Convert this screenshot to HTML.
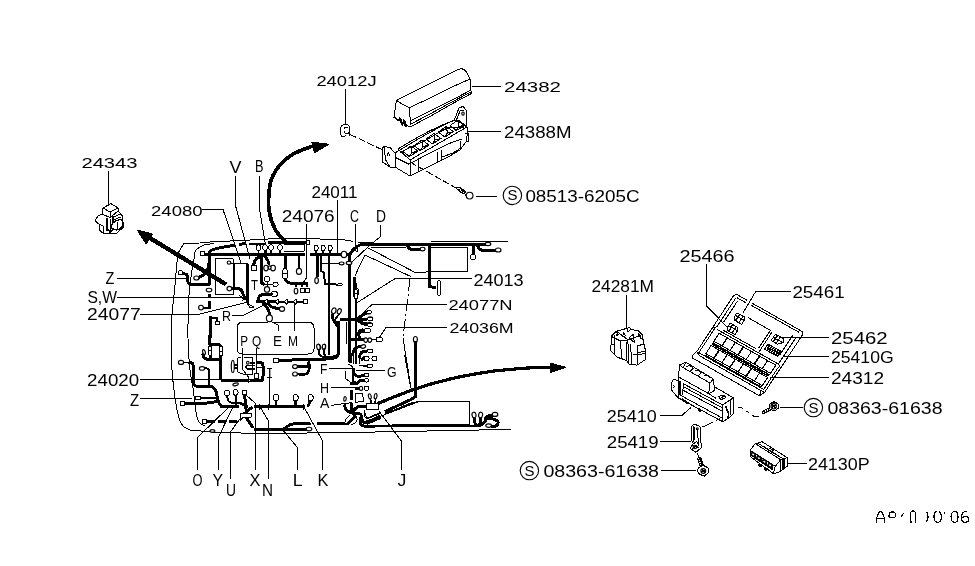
<!DOCTYPE html>
<html><head><meta charset="utf-8"><title>Wiring harness diagram</title>
<style>
html,body{margin:0;padding:0;background:#fff;}
svg{display:block;will-change:transform;filter:grayscale(1);}
text{font-family:"Liberation Sans",sans-serif;fill:#000;}
</style></head><body>
<svg width="975" height="566" viewBox="0 0 975 566" shape-rendering="crispEdges">
<rect width="975" height="566" fill="#fff"/>
<text x="316.4" y="86" font-size="15" textLength="60.2" lengthAdjust="spacingAndGlyphs">24012J</text>
<text x="504" y="92" font-size="15" textLength="57" lengthAdjust="spacingAndGlyphs">24382</text>
<text x="504" y="138.1" font-size="16.2" textLength="67.6" lengthAdjust="spacingAndGlyphs">24388M</text>
<text x="525.4" y="202" font-size="16.2" textLength="114.2" lengthAdjust="spacingAndGlyphs">08513-6205C</text>
<text x="81.4" y="168.1" font-size="15" textLength="56.2" lengthAdjust="spacingAndGlyphs">24343</text>
<text x="151" y="215.5" font-size="15" textLength="51.6" lengthAdjust="spacingAndGlyphs">24080</text>
<text x="229.6" y="172.9" font-size="16.2" textLength="12" lengthAdjust="spacingAndGlyphs">V</text>
<text x="255" y="172.3" font-size="16.2" textLength="8.5" lengthAdjust="spacingAndGlyphs">B</text>
<text x="311.4" y="197.5" font-size="16" textLength="46.2" lengthAdjust="spacingAndGlyphs">24011</text>
<text x="281.8" y="221.5" font-size="16" textLength="52.8" lengthAdjust="spacingAndGlyphs">24076</text>
<text x="350" y="221.5" font-size="16.2" textLength="9" lengthAdjust="spacingAndGlyphs">C</text>
<text x="376" y="221.5" font-size="16.2" textLength="10" lengthAdjust="spacingAndGlyphs">D</text>
<text x="473.4" y="285.5" font-size="16.2" textLength="50.2" lengthAdjust="spacingAndGlyphs">24013</text>
<text x="448.4" y="309.5" font-size="15" textLength="64.2" lengthAdjust="spacingAndGlyphs">24077N</text>
<text x="449.4" y="332.5" font-size="15" textLength="64.2" lengthAdjust="spacingAndGlyphs">24036M</text>
<text x="105.4" y="284.3" font-size="16.5" textLength="8.8" lengthAdjust="spacingAndGlyphs">Z</text>
<text x="87.4" y="302.5" font-size="16.5" textLength="29.5" lengthAdjust="spacingAndGlyphs">S,W</text>
<text x="87" y="320.1" font-size="16.2" textLength="53.6" lengthAdjust="spacingAndGlyphs">24077</text>
<text x="222" y="320.9" font-size="14.2" textLength="9" lengthAdjust="spacingAndGlyphs">R</text>
<text x="251" y="289.5" font-size="14.2" textLength="7" lengthAdjust="spacingAndGlyphs">T</text>
<text x="240.2" y="346.3" font-size="15.2" textLength="7.8" lengthAdjust="spacingAndGlyphs">P</text>
<text x="252" y="346.3" font-size="15.2" textLength="9.2" lengthAdjust="spacingAndGlyphs">Q</text>
<text x="273" y="346.3" font-size="15.2" textLength="9" lengthAdjust="spacingAndGlyphs">E</text>
<text x="288" y="346.3" font-size="15.2" textLength="10" lengthAdjust="spacingAndGlyphs">M</text>
<text x="87.1" y="385.5" font-size="16.2" textLength="52" lengthAdjust="spacingAndGlyphs">24020</text>
<text x="130.1" y="405.9" font-size="16.2" textLength="9.2" lengthAdjust="spacingAndGlyphs">Z</text>
<text x="267.7" y="377.8" font-size="14">I</text>
<text x="320" y="374.1" font-size="15.2" textLength="7.4" lengthAdjust="spacingAndGlyphs">F</text>
<text x="320" y="392.5" font-size="15.2" textLength="9" lengthAdjust="spacingAndGlyphs">H</text>
<text x="320" y="408.3" font-size="15.2" textLength="9.4" lengthAdjust="spacingAndGlyphs">A</text>
<text x="387" y="376.9" font-size="15.2" textLength="9.6" lengthAdjust="spacingAndGlyphs">G</text>
<text x="192.6" y="485.5" font-size="16.8" textLength="10" lengthAdjust="spacingAndGlyphs">O</text>
<text x="212.5" y="485.5" font-size="16.8" textLength="10.5" lengthAdjust="spacingAndGlyphs">Y</text>
<text x="226" y="495.5" font-size="16.8" textLength="10" lengthAdjust="spacingAndGlyphs">U</text>
<text x="249.6" y="485.5" font-size="16.8" textLength="10.9" lengthAdjust="spacingAndGlyphs">X</text>
<text x="262" y="495.5" font-size="16.8" textLength="11" lengthAdjust="spacingAndGlyphs">N</text>
<text x="292.7" y="485.5" font-size="16.8" textLength="9.9" lengthAdjust="spacingAndGlyphs">L</text>
<text x="317.4" y="485.5" font-size="16.8" textLength="10.9" lengthAdjust="spacingAndGlyphs">K</text>
<text x="397.6" y="485.5" font-size="16.8" textLength="8.9" lengthAdjust="spacingAndGlyphs">J</text>
<text x="591.4" y="291.5" font-size="16.2" textLength="62.6" lengthAdjust="spacingAndGlyphs">24281M</text>
<text x="679.4" y="261.5" font-size="16.2" textLength="55.2" lengthAdjust="spacingAndGlyphs">25466</text>
<text x="792.4" y="297.5" font-size="16.2" textLength="52.2" lengthAdjust="spacingAndGlyphs">25461</text>
<text x="831" y="343.5" font-size="17" textLength="56.6" lengthAdjust="spacingAndGlyphs">25462</text>
<text x="831" y="362.9" font-size="16.5" textLength="62.6" lengthAdjust="spacingAndGlyphs">25410G</text>
<text x="831" y="383.5" font-size="16.5" textLength="53" lengthAdjust="spacingAndGlyphs">24312</text>
<text x="827.4" y="413.5" font-size="16.2" textLength="115.2" lengthAdjust="spacingAndGlyphs">08363-61638</text>
<text x="606.8" y="421.5" font-size="16" textLength="49.8" lengthAdjust="spacingAndGlyphs">25410</text>
<text x="606.8" y="447.5" font-size="16.5" textLength="51.8" lengthAdjust="spacingAndGlyphs">25419</text>
<text x="543.4" y="476.5" font-size="16.2" textLength="115.6" lengthAdjust="spacingAndGlyphs">08363-61638</text>
<text x="808" y="469.9" font-size="16" textLength="61.6" lengthAdjust="spacingAndGlyphs">24130P</text>
<path d="M345.6 89 L345.6 124" fill="none" stroke="#000" stroke-width="1" stroke-linejoin="round"/>
<path d="M472 86 L500.6 86" fill="none" stroke="#000" stroke-width="1" stroke-linejoin="round"/>
<path d="M468 131 L501.4 131" fill="none" stroke="#000" stroke-width="1" stroke-linejoin="round"/>
<path d="M476 196 L497 196" fill="none" stroke="#000" stroke-width="1" stroke-linejoin="round"/>
<path d="M108.6 171 L108.6 204" fill="none" stroke="#000" stroke-width="1" stroke-linejoin="round"/>
<path d="M202.4 209.4 L223 209.4 L241 263" fill="none" stroke="#000" stroke-width="1" stroke-linejoin="round"/>
<path d="M235.6 176 L235.6 206 L250 259" fill="none" stroke="#000" stroke-width="1" stroke-linejoin="round"/>
<path d="M259.4 176 L259.4 208 L267 254" fill="none" stroke="#000" stroke-width="1" stroke-linejoin="round"/>
<path d="M337.6 200 L337.6 253" fill="none" stroke="#000" stroke-width="1" stroke-linejoin="round"/>
<path d="M306.6 223.6 L307 277 L303 283" fill="none" stroke="#000" stroke-width="1" stroke-linejoin="round"/>
<path d="M355.4 223.6 L355.4 248" fill="none" stroke="#000" stroke-width="1" stroke-linejoin="round"/>
<path d="M380.6 225 L380.6 236.5 L368.8 246.2 L352 262" fill="none" stroke="#000" stroke-width="1" stroke-linejoin="round"/>
<path d="M472 278.6 L395 278.6 L355 304" fill="none" stroke="#000" stroke-width="1" stroke-linejoin="round"/>
<path d="M447 304.4 L372 304.4 L363 313" fill="none" stroke="#000" stroke-width="1" stroke-linejoin="round"/>
<path d="M447 327.4 L386 327.4 L379 338" fill="none" stroke="#000" stroke-width="1" stroke-linejoin="round"/>
<path d="M116.6 278.4 L188 278.4" fill="none" stroke="#000" stroke-width="1" stroke-linejoin="round"/>
<path d="M116.6 297.4 L241 297.4" fill="none" stroke="#000" stroke-width="1" stroke-linejoin="round"/>
<path d="M140 314.4 L198 314.4 L246 302.4" fill="none" stroke="#000" stroke-width="1" stroke-linejoin="round"/>
<path d="M232 315.4 L243 315.4 L262 306" fill="none" stroke="#000" stroke-width="1" stroke-linejoin="round"/>
<path d="M140.2 379.5 L248 379.5" fill="none" stroke="#000" stroke-width="1" stroke-linejoin="round"/>
<path d="M140.2 398.4 L192 398.4" fill="none" stroke="#000" stroke-width="1" stroke-linejoin="round"/>
<path d="M229 407 L197 438 L197 470" fill="none" stroke="#000" stroke-width="1" stroke-linejoin="round"/>
<path d="M233 407 L218 438 L218 470" fill="none" stroke="#000" stroke-width="1" stroke-linejoin="round"/>
<path d="M242 416 L230.4 432 L230.4 479" fill="none" stroke="#000" stroke-width="1" stroke-linejoin="round"/>
<path d="M246 395 L255 403 L255 470" fill="none" stroke="#000" stroke-width="1" stroke-linejoin="round"/>
<path d="M260 407 L268 420 L268 479" fill="none" stroke="#000" stroke-width="1" stroke-linejoin="round"/>
<path d="M282 429 L297 447 L297 470" fill="none" stroke="#000" stroke-width="1" stroke-linejoin="round"/>
<path d="M304 407 L322 440 L322 470" fill="none" stroke="#000" stroke-width="1" stroke-linejoin="round"/>
<path d="M379 411 L401.4 441 L401.4 470" fill="none" stroke="#000" stroke-width="1" stroke-linejoin="round"/>
<path d="M269 378 L269 407" fill="none" stroke="#000" stroke-width="1" stroke-linejoin="round"/>
<path d="M329 368.4 L355 368.4" fill="none" stroke="#000" stroke-width="1" stroke-linejoin="round"/>
<path d="M331 387.6 L355 387.6" fill="none" stroke="#000" stroke-width="1" stroke-linejoin="round"/>
<path d="M331 405.4 L352 402.6" fill="none" stroke="#000" stroke-width="1" stroke-linejoin="round"/>
<path d="M385 370.4 L356 370.4" fill="none" stroke="#000" stroke-width="1" stroke-linejoin="round"/>
<path d="M626.6 295 L626.6 328" fill="none" stroke="#000" stroke-width="1" stroke-linejoin="round"/>
<path d="M706.6 264 L706.6 306 L730 330" fill="none" stroke="#000" stroke-width="1" stroke-linejoin="round"/>
<path d="M791 291 L756 291 L743 313" fill="none" stroke="#000" stroke-width="1" stroke-linejoin="round"/>
<path d="M829 337.4 L783 337.4" fill="none" stroke="#000" stroke-width="1" stroke-linejoin="round"/>
<path d="M829 356.4 L783 356.4" fill="none" stroke="#000" stroke-width="1" stroke-linejoin="round"/>
<path d="M829 377.4 L770 377.4" fill="none" stroke="#000" stroke-width="1" stroke-linejoin="round"/>
<path d="M780 407.4 L803 407.4" fill="none" stroke="#000" stroke-width="1" stroke-linejoin="round"/>
<path d="M660 415.4 L682 415.4 L691 407.4" fill="none" stroke="#000" stroke-width="1" stroke-linejoin="round"/>
<path d="M660 441.4 L691 441.4" fill="none" stroke="#000" stroke-width="1" stroke-linejoin="round"/>
<path d="M661 470.6 L696 470.6" fill="none" stroke="#000" stroke-width="1" stroke-linejoin="round"/>
<path d="M788 463.4 L807 463.4" fill="none" stroke="#000" stroke-width="1" stroke-linejoin="round"/>
<circle cx="512.4" cy="195.4" r="9.2" fill="none" stroke="#000" stroke-width="1.1" shape-rendering="geometricPrecision"/>
<text x="507.4" y="200.4" font-size="14" textLength="10" lengthAdjust="spacingAndGlyphs">S</text>
<circle cx="813.4" cy="407.6" r="9.2" fill="none" stroke="#000" stroke-width="1.1" shape-rendering="geometricPrecision"/>
<text x="808.4" y="412.6" font-size="14" textLength="10" lengthAdjust="spacingAndGlyphs">S</text>
<circle cx="529.4" cy="470.6" r="9.2" fill="none" stroke="#000" stroke-width="1.1" shape-rendering="geometricPrecision"/>
<text x="524.4" y="475.6" font-size="14" textLength="10" lengthAdjust="spacingAndGlyphs">S</text>
<path d="M226 284.4 L150 238" fill="none" stroke="#000" stroke-width="4.4" stroke-linejoin="round"/>
<path d="M137.2 230.1 L152.8 234.1 L146.3 243.9 Z" fill="#000" stroke="#000" stroke-width="1" stroke-linejoin="round"/>
<path d="M286 242.4 C284.2 240.2 277.8 234.4 275 229 C272.2 223.6 269.9 217.0 269 210 C268.1 203.0 268.9 192.8 269.6 187 C270.3 181.2 271.4 178.7 273.3 174.9 C275.2 171.1 277.5 167.6 280.8 164.1 C284.1 160.6 288.4 156.9 293.2 154.1 C298.0 151.3 306.2 148.4 309.8 147.1 C313.4 145.8 314.1 146.2 315 146" fill="none" stroke="#000" stroke-width="3.7" stroke-linecap="round"/>
<path d="M328.9 144.2 L311.9 142.1 L314.4 152.9 Z" fill="#000" stroke="#000" stroke-width="1" stroke-linejoin="round"/>
<path d="M379 403 C385.0 400.7 403.2 393.0 415 389 C426.8 385.0 437.5 381.9 450 379 C462.5 376.1 478.3 373.3 490 371.6 C501.7 369.9 512.3 369.3 520 368.6 C527.7 367.9 530.7 367.8 536 367.6 C541.3 367.4 549.3 367.5 552 367.5" fill="none" stroke="#000" stroke-width="3.2" stroke-linecap="round"/>
<path d="M566 367.4 L550 363 L550 372.7 Z" fill="#000" stroke="#000" stroke-width="1" stroke-linejoin="round"/>
<path d="M177 262 L177.5 254 L184 243.2 L200 243 L210 242" fill="none" stroke="#000" stroke-width="1" stroke-linejoin="round"/>
<path d="M210 242 C216.7 241.7 237.3 240.6 250 240 C262.7 239.4 272.7 238.5 286 238.4 C299.3 238.3 319.9 239.0 330 239.3 C340.1 239.6 342.8 239.8 346.6 240.2 C350.4 240.6 351.6 241.4 352.6 241.6" fill="none" stroke="#000" stroke-width="1" stroke-linecap="round"/>
<path d="M177 262 C176.7 265.8 175.8 276.2 175 285 C174.2 293.8 172.7 306.2 172 315 C171.3 323.8 171.0 328.8 171 338 C171.0 347.2 171.3 360.0 172 370 C172.7 380.0 173.8 390.0 175 398 C176.2 406.0 177.7 413.3 179 418 C180.3 422.7 181.2 424.0 183 426 C184.8 428.0 188.8 429.3 190 430" fill="none" stroke="#000" stroke-width="1" stroke-linecap="round"/>
<path d="M190 430 L214 432.2 L260 433.6 L355 432.4 L511 429.4" fill="none" stroke="#000" stroke-width="1" stroke-linejoin="round"/>
<path d="M214 243.6 C212.3 243.8 206.7 244.2 204 245 C201.3 245.8 199.5 247.1 198 248.3 C196.5 249.5 195.7 249.9 195 252 C194.3 254.1 194.3 257.6 193.8 260.6 C193.3 263.6 192.8 264.3 192 270 C191.2 275.7 189.7 283.7 189 295 C188.3 306.3 187.8 325.5 188 338 C188.2 350.5 189.2 361.7 190 370 C190.8 378.3 192.0 381.0 193 388 C194.0 395.0 195.0 406.3 196 412 C197.0 417.7 197.5 419.7 199 422 C200.5 424.3 204.0 425.3 205 426" fill="none" stroke="#000" stroke-width="1" stroke-linecap="round"/>
<path d="M431 241.4 L508 241.4" fill="none" stroke="#000" stroke-width="1" stroke-linejoin="round"/>
<path d="M205 254.4 L305 254.4" fill="none" stroke="#000" stroke-width="3" stroke-linejoin="round"/>
<path d="M310 254.4 L341 254.4" fill="none" stroke="#000" stroke-width="3" stroke-linejoin="round"/>
<rect x="200.4" y="251.6" width="4.4" height="3.6" rx="0" fill="#fff" stroke="#000" stroke-width="1"/>
<path d="M209 253 C209.5 252.5 209.8 250.9 212 250 C214.2 249.1 218.3 248.2 222 247.4 C225.7 246.6 232.0 245.7 234 245.4" fill="none" stroke="#000" stroke-width="3" stroke-linecap="round"/>
<path d="M239 244.4 L246 243.4" fill="none" stroke="#000" stroke-width="3" stroke-linejoin="round"/>
<path d="M249 243.8 L265 243.8" fill="none" stroke="#000" stroke-width="1.6" stroke-linejoin="round"/>
<path d="M268 242.6 L308 242.6" fill="none" stroke="#000" stroke-width="3" stroke-linejoin="round"/>
<rect x="306.6" y="240.8" width="2.8" height="3.2" rx="0" fill="#fff" stroke="#000" stroke-width="1"/>
<path d="M284 244 L304 244 L304 251 L284 251" fill="none" stroke="#000" stroke-width="1" stroke-linejoin="round"/>
<path d="M258.6 250 L258.6 254" fill="none" stroke="#000" stroke-width="1.6" stroke-linejoin="round"/>
<rect x="256.4" y="244.9" width="4.4" height="5.4" rx="1.8" fill="#fff" stroke="#000" stroke-width="1"/>
<path d="M265 250 L265 254" fill="none" stroke="#000" stroke-width="1.6" stroke-linejoin="round"/>
<rect x="262.8" y="244.9" width="4.4" height="5.4" rx="1.8" fill="#fff" stroke="#000" stroke-width="1"/>
<path d="M271 250 L271 254" fill="none" stroke="#000" stroke-width="1.6" stroke-linejoin="round"/>
<rect x="268.8" y="244.9" width="4.4" height="5.4" rx="1.8" fill="#fff" stroke="#000" stroke-width="1"/>
<path d="M280 250 L280 254" fill="none" stroke="#000" stroke-width="1.6" stroke-linejoin="round"/>
<rect x="277.8" y="244.9" width="4.4" height="5.4" rx="1.8" fill="#fff" stroke="#000" stroke-width="1"/>
<path d="M316 250 L316 254" fill="none" stroke="#000" stroke-width="2" stroke-linejoin="round"/>
<rect x="314" y="245" width="4" height="5.6" rx="1.8" fill="#fff" stroke="#000" stroke-width="1"/>
<path d="M323 250 L323 254" fill="none" stroke="#000" stroke-width="2" stroke-linejoin="round"/>
<rect x="321" y="245" width="4" height="5.6" rx="1.8" fill="#fff" stroke="#000" stroke-width="1"/>
<path d="M330 250 L330 254" fill="none" stroke="#000" stroke-width="2" stroke-linejoin="round"/>
<rect x="328" y="245" width="4" height="5.6" rx="1.8" fill="#fff" stroke="#000" stroke-width="1"/>
<path d="M349.3 262 C349.4 261.0 349.2 257.8 349.6 256 C350.1 254.2 350.8 252.6 352 251 C353.2 249.4 355.3 247.7 357 246.6 C358.7 245.5 360.0 244.8 362 244.4 C364.0 244.0 367.8 244.1 369 244" fill="none" stroke="#000" stroke-width="3" stroke-linecap="round"/>
<path d="M346 254.4 L350.5 254.4" fill="none" stroke="#000" stroke-width="3" stroke-linejoin="round"/>
<ellipse cx="344" cy="254.4" rx="2.8" ry="3.2" fill="#fff" stroke="#000" stroke-width="1.15" shape-rendering="geometricPrecision"/>
<path d="M355.2 248 L357.6 248.6 L357.4 251.6 L355 250.6 Z" fill="#fff" stroke="#000" stroke-width="1" stroke-linejoin="round"/>
<path d="M357.7 242 L371.5 242" fill="none" stroke="#000" stroke-width="1" stroke-linejoin="round"/>
<path d="M370.6 247.2 L405.7 247.2" fill="none" stroke="#000" stroke-width="1" stroke-linejoin="round"/>
<path d="M215 258.6 L233 258.6 L233 294.6 L215 294.6 Z" fill="none" stroke="#000" stroke-width="1" stroke-linejoin="round"/>
<path d="M230 263 L248 264" fill="none" stroke="#000" stroke-width="1" stroke-linejoin="round"/>
<ellipse cx="229" cy="262.6" rx="1.8" ry="1.6" fill="#fff" stroke="#000" stroke-width="1.15" shape-rendering="geometricPrecision"/>
<path d="M234 264 L234 287" fill="none" stroke="#000" stroke-width="1" stroke-linejoin="round"/>
<path d="M247.4 264 L247.4 303" fill="none" stroke="#000" stroke-width="3" stroke-linejoin="round"/>
<path d="M247.4 303.4 L254 307 L250 308 L247.4 303.4" fill="none" stroke="#000" stroke-width="1" stroke-linejoin="round"/>
<path d="M232 288.6 C233.3 288.7 238.2 288.1 240 289 C241.8 289.9 242.2 292.4 243 294 C243.8 295.6 244.7 297.8 245 298.6" fill="none" stroke="#000" stroke-width="3" stroke-linecap="round"/>
<ellipse cx="229.4" cy="288.6" rx="2.4" ry="2.2" fill="#fff" stroke="#000" stroke-width="1.15" shape-rendering="geometricPrecision"/>
<path d="M239.6 295.4 L244 299.4 L242 300.6" fill="none" stroke="#000" stroke-width="1" stroke-linejoin="round"/>
<path d="M209 255 L209 285" fill="none" stroke="#000" stroke-width="3" stroke-linejoin="round"/>
<ellipse cx="209" cy="290" rx="2.8" ry="1.8" fill="#fff" stroke="#000" stroke-width="1.15" shape-rendering="geometricPrecision"/>
<path d="M209.4 294 L209.4 298" fill="none" stroke="#000" stroke-width="3" stroke-linejoin="round"/>
<path d="M209.4 301 L209.4 309" fill="none" stroke="#000" stroke-width="3" stroke-linejoin="round"/>
<path d="M203 307.6 L209.4 307.6" fill="none" stroke="#000" stroke-width="2" stroke-linejoin="round"/>
<ellipse cx="201" cy="307.6" rx="2.4" ry="2.4" fill="#fff" stroke="#000" stroke-width="1.15" shape-rendering="geometricPrecision"/>
<path d="M210 316 L210 338" fill="none" stroke="#000" stroke-width="3" stroke-linejoin="round"/>
<path d="M210 317.4 L217 318 L217 322" fill="none" stroke="#000" stroke-width="2" stroke-linejoin="round"/>
<rect x="215" y="321.8" width="4" height="2.4" rx="0" fill="#fff" stroke="#000" stroke-width="1"/>
<path d="M183.6 273.6 C184.2 273.8 186.3 273.6 187 275 C187.7 276.4 187.2 280.4 188 282 C188.8 283.6 188.5 284.0 192 284.4 C195.5 284.8 206.2 284.4 209 284.4" fill="none" stroke="#000" stroke-width="3" stroke-linecap="round"/>
<path d="M199 277.4 C200.0 276.8 203.5 275.6 205 274 C206.5 272.4 207.3 269.8 208 268 C208.7 266.2 208.8 263.8 209 263" fill="none" stroke="#000" stroke-width="3" stroke-linecap="round"/>
<rect x="178.6" y="270.8" width="4" height="3.6" rx="0.8" fill="#fff" stroke="#000" stroke-width="1"/>
<ellipse cx="196.4" cy="278" rx="2.6" ry="2" fill="#fff" stroke="#000" stroke-width="1.15" shape-rendering="geometricPrecision"/>
<path d="M264 255 C262.7 255.7 257.7 257.3 256 259 C254.3 260.7 254.0 264.0 253.6 265" fill="none" stroke="#000" stroke-width="3" stroke-linecap="round"/>
<rect x="251.5" y="265.2" width="5" height="5.6" rx="1.4" fill="#fff" stroke="#000" stroke-width="1"/>
<path d="M263 255 C263.7 255.7 266.0 257.5 267 259 C268.0 260.5 268.7 263.2 269 264" fill="none" stroke="#000" stroke-width="3" stroke-linecap="round"/>
<ellipse cx="266" cy="268" rx="2.2" ry="2.8" fill="#fff" stroke="#000" stroke-width="1.15" shape-rendering="geometricPrecision"/>
<ellipse cx="273" cy="268" rx="2.4" ry="2.8" fill="#fff" stroke="#000" stroke-width="1.15" shape-rendering="geometricPrecision"/>
<ellipse cx="269.6" cy="267.6" rx="1.4" ry="1.8" fill="#fff" stroke="#000" stroke-width="1.15" shape-rendering="geometricPrecision"/>
<path d="M261 255 L261 282.6 L264.4 284.6" fill="none" stroke="#000" stroke-width="3" stroke-linejoin="round"/>
<rect x="264.8" y="276.8" width="4.4" height="4.4" rx="1.2" fill="#fff" stroke="#000" stroke-width="1"/>
<path d="M267.4 281.4 L267.4 287.4" fill="none" stroke="#000" stroke-width="1" stroke-linejoin="round"/>
<path d="M264 284.4 L272 284.4" fill="none" stroke="#000" stroke-width="1" stroke-linejoin="round"/>
<rect x="272.8" y="282.4" width="5.2" height="4" rx="1.8" fill="#fff" stroke="#000" stroke-width="1"/>
<ellipse cx="267" cy="289.4" rx="2.6" ry="2.8" fill="#fff" stroke="#000" stroke-width="1.15" shape-rendering="geometricPrecision"/>
<rect x="271.6" y="291.6" width="5.6" height="4.8" rx="2" fill="#fff" stroke="#000" stroke-width="1"/>
<path d="M285 255 L285 268" fill="none" stroke="#000" stroke-width="3" stroke-linejoin="round"/>
<rect x="282.8" y="268.4" width="4.4" height="10.4" rx="1.8" fill="#fff" stroke="#000" stroke-width="1"/>
<path d="M282.8 273.6 L287.2 273.6" fill="none" stroke="#000" stroke-width="1" stroke-linejoin="round"/>
<path d="M299 255 L299 268" fill="none" stroke="#000" stroke-width="2" stroke-linejoin="round"/>
<ellipse cx="299" cy="271.4" rx="2.6" ry="3" fill="#fff" stroke="#000" stroke-width="1.15" shape-rendering="geometricPrecision"/>
<path d="M285 279 C285.5 279.6 286.2 281.9 288 282.6 C289.8 283.3 292.8 283.2 296 283.4 C299.2 283.6 305.2 283.6 307 283.6" fill="none" stroke="#000" stroke-width="3" stroke-linecap="round"/>
<path d="M307 283.6 L307.6 287.4" fill="none" stroke="#000" stroke-width="2" stroke-linejoin="round"/>
<path d="M302.4 283.6 L302.4 287.4" fill="none" stroke="#000" stroke-width="2" stroke-linejoin="round"/>
<path d="M296.6 283.6 L296.2 287.4" fill="none" stroke="#000" stroke-width="2" stroke-linejoin="round"/>
<ellipse cx="296" cy="291" rx="1.8" ry="2.8" fill="#fff" stroke="#000" stroke-width="1.15" shape-rendering="geometricPrecision"/>
<rect x="300.4" y="288.4" width="4" height="4.4" rx="0" fill="#fff" stroke="#000" stroke-width="1"/>
<rect x="305.4" y="288.4" width="4" height="4.4" rx="0" fill="#fff" stroke="#000" stroke-width="1"/>
<path d="M256 302 L277 301.8" fill="none" stroke="#000" stroke-width="3" stroke-linejoin="round"/>
<path d="M277 301.8 L304 301.6" fill="none" stroke="#000" stroke-width="2" stroke-linejoin="round"/>
<rect x="303.4" y="299.8" width="4" height="3.6" rx="0" fill="#fff" stroke="#000" stroke-width="1"/>
<path d="M264.2 301.8 L267 299.2 L267 304.4 Z" fill="#fff" stroke="#000" stroke-width="1" stroke-linejoin="round"/>
<path d="M275.2 301.8 L278 299.2 L278 304.4 Z" fill="#fff" stroke="#000" stroke-width="1" stroke-linejoin="round"/>
<path d="M284.2 301.8 L287 299.2 L287 304.4 Z" fill="#fff" stroke="#000" stroke-width="1" stroke-linejoin="round"/>
<path d="M293.2 301.8 L296 299.2 L296 304.4 Z" fill="#fff" stroke="#000" stroke-width="1" stroke-linejoin="round"/>
<path d="M257.6 301.8 C257.9 300.8 258.5 297.2 259.6 296 C260.7 294.8 261.9 294.7 264 294.4 C266.1 294.1 270.7 294.1 272 294" fill="none" stroke="#000" stroke-width="3" stroke-linecap="round"/>
<path d="M268 303.4 C268.7 304.0 270.0 306.1 272 307 C274.0 307.9 278.7 308.7 280 309" fill="none" stroke="#000" stroke-width="3" stroke-linecap="round"/>
<ellipse cx="282" cy="309" rx="2.6" ry="2.4" fill="#fff" stroke="#000" stroke-width="1.15" shape-rendering="geometricPrecision"/>
<path d="M263 304 C263.8 304.8 266.9 307.2 268 309 C269.1 310.8 269.3 314.0 269.6 315" fill="none" stroke="#000" stroke-width="3" stroke-linecap="round"/>
<ellipse cx="269.4" cy="318.2" rx="3" ry="3.4" fill="#fff" stroke="#000" stroke-width="1.15" shape-rendering="geometricPrecision"/>
<path d="M271 321.4 L278 325 L278 331" fill="none" stroke="#000" stroke-width="1" stroke-linejoin="round"/>
<path d="M294.4 303.4 L294.4 331" fill="none" stroke="#000" stroke-width="1" stroke-linejoin="round"/>
<path d="M268 322 H243 Q237 322 237 328 V349 Q237 354 243 354 H308 Q314 354 314 349 V328 Q314 322 308 322 H272" fill="none" stroke="#000" stroke-width="1"/>
<path d="M317 255 L317 277.4" fill="none" stroke="#000" stroke-width="3" stroke-linejoin="round"/>
<ellipse cx="316.6" cy="280.6" rx="1.8" ry="3" fill="#fff" stroke="#000" stroke-width="1.15" shape-rendering="geometricPrecision"/>
<path d="M320.6 255 L320.6 270.6 L324 273 L325 284 L337.6 284.6" fill="none" stroke="#000" stroke-width="2" stroke-linejoin="round"/>
<rect x="337.8" y="283.4" width="4.4" height="2.4" rx="1" fill="#fff" stroke="#000" stroke-width="1"/>
<path d="M328.6 255 L328.6 338" fill="none" stroke="#000" stroke-width="1.8" stroke-linejoin="round"/>
<path d="M321 263 L339.6 263.4" fill="none" stroke="#000" stroke-width="1" stroke-linejoin="round"/>
<ellipse cx="341.6" cy="263.4" rx="2.4" ry="1.4" fill="#fff" stroke="#000" stroke-width="1.15" shape-rendering="geometricPrecision"/>
<ellipse cx="349" cy="263" rx="2.8" ry="1.6" fill="#fff" stroke="#000" stroke-width="1.15" shape-rendering="geometricPrecision"/>
<path d="M349.6 265 L349.6 338" fill="none" stroke="#000" stroke-width="3" stroke-linejoin="round"/>
<path d="M354 277 L354 297" fill="none" stroke="#000" stroke-width="3" stroke-linejoin="round"/>
<path d="M369 244 L489.4 244" fill="none" stroke="#000" stroke-width="3" stroke-linejoin="round"/>
<ellipse cx="488" cy="244" rx="2.8" ry="1.6" fill="#fff" stroke="#000" stroke-width="1.15" shape-rendering="geometricPrecision"/>
<path d="M407 245 C407.4 245.6 408.4 247.9 409.4 248.6 C410.4 249.3 411.1 249.3 413 249.4 C414.9 249.5 419.7 249.4 421 249.4" fill="none" stroke="#000" stroke-width="3" stroke-linecap="round"/>
<ellipse cx="422.6" cy="249" rx="2.4" ry="1.8" fill="#fff" stroke="#000" stroke-width="1.15" shape-rendering="geometricPrecision"/>
<path d="M429.4 244 L429.4 286.6 L436 287.8" fill="none" stroke="#000" stroke-width="3" stroke-linejoin="round"/>
<rect x="437.4" y="280.6" width="3.2" height="14.8" rx="1.6" fill="#fff" stroke="#000" stroke-width="1"/>
<path d="M473 245 L473 254" fill="none" stroke="#000" stroke-width="3" stroke-linejoin="round"/>
<rect x="470.8" y="254" width="4.4" height="5.2" rx="1.2" fill="#fff" stroke="#000" stroke-width="1"/>
<path d="M477.4 245 C477.8 245.7 478.7 248.5 480 249.4 C481.3 250.3 482.5 250.4 485 250.6 C487.5 250.8 493.3 250.6 495 250.6" fill="none" stroke="#000" stroke-width="3" stroke-linecap="round"/>
<ellipse cx="498.2" cy="250" rx="2.8" ry="2" fill="#fff" stroke="#000" stroke-width="1.15" shape-rendering="geometricPrecision"/>
<path d="M431 247.4 L467.6 247.4 L467.6 271.4 L443 271.4 L415 272.4 L367.4 247.6" fill="none" stroke="#000" stroke-width="1" stroke-linejoin="round"/>
<path d="M365 255 L411 276.6" fill="none" stroke="#000" stroke-width="1" stroke-linejoin="round"/>
<path d="M365 255 L360 265 L355 276" fill="none" stroke="#000" stroke-width="1" stroke-linejoin="round"/>
<path d="M410 279 L403 338" fill="none" stroke="#000" stroke-width="1" stroke-dasharray="12 3 2 3" stroke-linejoin="round"/>
<path d="M356.2 283 L356.2 338" fill="none" stroke="#000" stroke-width="2" stroke-linejoin="round"/>
<rect x="354.4" y="288" width="3.6" height="8" rx="0.8" fill="#fff" stroke="#000" stroke-width="1"/>
<path d="M357 319 C357.8 318.4 360.4 316.4 362 315.4 C363.6 314.4 365.8 313.4 366.6 313" fill="none" stroke="#000" stroke-width="3" stroke-linecap="round"/>
<path d="M357 319 L367 319" fill="none" stroke="#000" stroke-width="3" stroke-linejoin="round"/>
<path d="M358.6 320.6 C359.2 321.1 360.7 322.8 362 323.4 C363.3 324.0 365.8 323.9 366.6 324" fill="none" stroke="#000" stroke-width="3" stroke-linecap="round"/>
<path d="M358 334 C358.4 333.4 359.4 330.8 360.6 330.2 C361.8 329.6 364.3 330.2 365 330.2" fill="none" stroke="#000" stroke-width="3" stroke-linecap="round"/>
<ellipse cx="368.6" cy="312.4" rx="2.2" ry="1.6" fill="#fff" stroke="#000" stroke-width="1.15" shape-rendering="geometricPrecision"/>
<ellipse cx="370.2" cy="318.6" rx="2.4" ry="1.8" fill="#fff" stroke="#000" stroke-width="1.15" shape-rendering="geometricPrecision"/>
<ellipse cx="369.4" cy="324" rx="2.2" ry="1.6" fill="#fff" stroke="#000" stroke-width="1.15" shape-rendering="geometricPrecision"/>
<ellipse cx="367" cy="330.6" rx="2.6" ry="1.8" fill="#fff" stroke="#000" stroke-width="1.15" shape-rendering="geometricPrecision"/>
<path d="M209.8 335 L209.8 344.2" fill="none" stroke="#000" stroke-width="3" stroke-linejoin="round"/>
<path d="M209.8 344.2 C211.0 344.2 215.5 344.0 217.2 344.2 C218.9 344.4 219.3 345.0 219.9 345.6 C220.5 346.2 220.5 347.5 220.6 347.9" fill="none" stroke="#000" stroke-width="3" stroke-linecap="round"/>
<path d="M220.6 347.9 L220.6 380.2" fill="none" stroke="#000" stroke-width="3" stroke-linejoin="round"/>
<path d="M210.2 344.2 L210.2 359.5" fill="none" stroke="#000" stroke-width="3" stroke-linejoin="round"/>
<path d="M207 359.5 L220.6 359.5" fill="none" stroke="#000" stroke-width="3" stroke-linejoin="round"/>
<path d="M202.8 354.4 C203.0 354.9 203.5 356.8 204.2 357.6 C204.9 358.5 206.5 359.2 207 359.5" fill="none" stroke="#000" stroke-width="3" stroke-linecap="round"/>
<ellipse cx="204" cy="352.1" rx="1.29235" ry="2.58469" fill="#fff" stroke="#000" stroke-width="1.15" shape-rendering="geometricPrecision" transform="rotate(-15 204 352.1)"/>
<rect x="208.6" y="346.1" width="3.32318" height="9.23105" rx="1.29235" fill="#fff" stroke="#000" stroke-width="1"/>
<path d="M208.7 350.7 L211.8 350.7" fill="none" stroke="#000" stroke-width="1" stroke-linejoin="round"/>
<rect x="219.1" y="346.5" width="3.69242" height="9.23105" rx="1.47697" fill="#fff" stroke="#000" stroke-width="1"/>
<path d="M219.2 351.2 L222.7 351.2" fill="none" stroke="#000" stroke-width="1" stroke-linejoin="round"/>
<path d="M220.6 380.2 L261 380.2" fill="none" stroke="#000" stroke-width="3" stroke-linejoin="round"/>
<path d="M261 380.2 C261.3 379.9 262.5 381.0 262.8 378.4 C263.1 375.8 263.3 367.1 262.8 364.5 C262.3 361.9 260.4 362.8 259.6 362.5 C258.8 362.2 258.1 362.5 257.8 362.5" fill="none" stroke="#000" stroke-width="3" stroke-linecap="round"/>
<ellipse cx="235.6" cy="384.4" rx="2.76932" ry="1.29235" fill="#fff" stroke="#000" stroke-width="1.15" shape-rendering="geometricPrecision" transform="rotate(-15 235.6 384.4)"/>
<ellipse cx="232.8" cy="366.4" rx="1.47697" ry="6.0925" fill="#fff" stroke="#000" stroke-width="1.15" shape-rendering="geometricPrecision"/>
<path d="M234.2 364.5 L237.6 364.5" fill="none" stroke="#000" stroke-width="2" stroke-linejoin="round"/>
<path d="M234.2 367.8 L237.6 367.8" fill="none" stroke="#000" stroke-width="2" stroke-linejoin="round"/>
<path d="M240.4 357.2 C239.9 357.5 238.1 357.4 237.6 358.8 C237.1 360.2 237.5 363.3 237.5 365.5 C237.5 367.7 236.5 370.4 237.6 371.9 C238.7 373.3 242.8 373.8 243.9 374.2" fill="none" stroke="#000" stroke-width="1" stroke-linecap="round"/>
<path d="M243.9 357.2 L252.2 357.2 L252.2 374.2 L243.9 374.2" fill="none" stroke="#000" stroke-width="1" stroke-linejoin="round"/>
<ellipse cx="247.8" cy="362.7" rx="1.29235" ry="1.47697" fill="#fff" stroke="#000" stroke-width="1.15" shape-rendering="geometricPrecision"/>
<path d="M249.5 362.7 L255 362.7" fill="none" stroke="#000" stroke-width="1.8" stroke-linejoin="round"/>
<path d="M246.7 365.9 L255 365.9" fill="none" stroke="#000" stroke-width="1" stroke-linejoin="round"/>
<path d="M248.1 369.2 L255 369.2" fill="none" stroke="#000" stroke-width="1.8" stroke-linejoin="round"/>
<path d="M246.7 365.9 C246.5 366.1 245.6 366.8 245.8 367.3 C246.0 367.9 247.7 368.9 248.1 369.2" fill="none" stroke="#000" stroke-width="1.2" stroke-linecap="round"/>
<path d="M256.8 367.3 L261.6 367.3" fill="none" stroke="#000" stroke-width="1" stroke-linejoin="round"/>
<rect x="254.5" y="373" width="3.69242" height="5.53863" rx="0" fill="#fff" stroke="#000" stroke-width="1"/>
<path d="M242.5 347.9 L242.5 369.2 L249.5 378.4" fill="none" stroke="#000" stroke-width="1" stroke-linejoin="round"/>
<path d="M256.4 347.9 L256.4 372.8" fill="none" stroke="#000" stroke-width="1" stroke-linejoin="round"/>
<path d="M248.5 378.4 L250.8 380.2 L248.5 382.1 Z" fill="#fff" stroke="#000" stroke-width="1" stroke-linejoin="round"/>
<path d="M183.6 362.4 L190 363" fill="none" stroke="#000" stroke-width="1.4" stroke-linejoin="round"/>
<path d="M190 363 C190.5 363.3 192.5 361.7 193 365 C193.5 368.3 193.0 380.0 193 383" fill="none" stroke="#000" stroke-width="3" stroke-linecap="round"/>
<path d="M193 383 C193.7 383.6 194.0 385.8 197 386.4 C200.0 387.0 207.8 385.5 211 386.4 C214.2 387.3 214.8 389.0 216 391.6 C217.2 394.2 217.3 399.5 218.4 402 C219.5 404.5 221.7 405.8 222.4 406.6" fill="none" stroke="#000" stroke-width="3" stroke-linecap="round"/>
<ellipse cx="181" cy="362.4" rx="2.6" ry="2" fill="#fff" stroke="#000" stroke-width="1.15" shape-rendering="geometricPrecision"/>
<path d="M204.4 368.4 C205.2 368.7 208.2 367.2 209 370 C209.8 372.8 209.0 382.5 209 385" fill="none" stroke="#000" stroke-width="2" stroke-linecap="round"/>
<ellipse cx="202" cy="368.4" rx="2.6" ry="1.8" fill="#fff" stroke="#000" stroke-width="1.15" shape-rendering="geometricPrecision"/>
<rect x="195.6" y="396.2" width="4.8" height="3.6" rx="0" fill="#fff" stroke="#000" stroke-width="1"/>
<path d="M200.4 398.2 L217 398.2" fill="none" stroke="#000" stroke-width="2.4" stroke-linejoin="round"/>
<path d="M185 403.4 C187.5 403.4 195.3 403.6 200 403.4 C204.7 403.2 210.0 403.0 213 402.4 C216.0 401.8 217.2 400.4 218 400" fill="none" stroke="#000" stroke-width="3" stroke-linecap="round"/>
<rect x="180.6" y="401.6" width="4" height="3.6" rx="0" fill="#fff" stroke="#000" stroke-width="1"/>
<path d="M220 406.6 L239 406.6" fill="none" stroke="#000" stroke-width="3" stroke-linejoin="round"/>
<path d="M254 406.6 L305 406.6" fill="none" stroke="#000" stroke-width="3" stroke-linejoin="round"/>
<path d="M227 396 C227.3 396.9 227.8 400.4 229 401.6 C230.2 402.8 232.2 402.8 234 403 C235.8 403.2 239.0 403.0 240 403" fill="none" stroke="#000" stroke-width="2" stroke-linecap="round"/>
<path d="M235.6 395.6 L235.6 406.6" fill="none" stroke="#000" stroke-width="2" stroke-linejoin="round"/>
<rect x="224.6" y="390.2" width="4.8" height="5.6" rx="2" fill="#fff" stroke="#000" stroke-width="1"/>
<rect x="233.2" y="389.6" width="4.8" height="5.6" rx="2.2" fill="#fff" stroke="#000" stroke-width="1"/>
<rect x="242.4" y="390" width="4.4" height="4.8" rx="0" fill="#fff" stroke="#000" stroke-width="1"/>
<path d="M244.6 395 L246.4 412.4" fill="none" stroke="#000" stroke-width="3" stroke-linejoin="round"/>
<path d="M252.4 407 L242 415.6" fill="none" stroke="#000" stroke-width="3" stroke-linejoin="round"/>
<path d="M244 414 L253 428" fill="none" stroke="#000" stroke-width="3" stroke-linejoin="round"/>
<path d="M240 413 L251 413 L251 417 L243.6 417 L240 420.4 Z" fill="#fff" stroke="#000" stroke-width="1" stroke-linejoin="round"/>
<path d="M240 403 L248 406.6" fill="none" stroke="#000" stroke-width="2.8" stroke-linejoin="round"/>
<path d="M276 400.4 L276 406.6" fill="none" stroke="#000" stroke-width="2.8" stroke-linejoin="round"/>
<rect x="273.5" y="394.6" width="5" height="6" rx="2.2" fill="#fff" stroke="#000" stroke-width="1"/>
<path d="M295.6 400.4 L295.6 406.6" fill="none" stroke="#000" stroke-width="2.8" stroke-linejoin="round"/>
<rect x="293.1" y="394.6" width="5" height="6" rx="2.2" fill="#fff" stroke="#000" stroke-width="1"/>
<path d="M310.6 400.4 L307.6 406.6" fill="none" stroke="#000" stroke-width="2.8" stroke-linejoin="round"/>
<rect x="308.1" y="394.6" width="5" height="6" rx="2.2" fill="#fff" stroke="#000" stroke-width="1"/>
<path d="M260 404.6 L258.6 407 L260 409.4" fill="none" stroke="#000" stroke-width="1" stroke-linejoin="round"/>
<path d="M269 404.6 L267.6 407 L269 409.4" fill="none" stroke="#000" stroke-width="1" stroke-linejoin="round"/>
<path d="M304 404.6 L302.6 407 L304 409.4" fill="none" stroke="#000" stroke-width="1" stroke-linejoin="round"/>
<rect x="202.2" y="419.8" width="4.4" height="3.6" rx="0" fill="#fff" stroke="#000" stroke-width="1"/>
<path d="M207 421.6 L240 421.6" fill="none" stroke="#000" stroke-width="3" stroke-dasharray="7.5 3.5" stroke-linejoin="round"/>
<path d="M254 429 L307 429" fill="none" stroke="#000" stroke-width="3" stroke-linejoin="round"/>
<path d="M284 429 C284.7 428.5 286.5 426.8 288 426 C289.5 425.2 289.3 424.3 293 424 C296.7 423.7 307.2 424.0 310 424" fill="none" stroke="#000" stroke-width="3" stroke-linecap="round"/>
<ellipse cx="309" cy="429" rx="2.8" ry="1.8" fill="#fff" stroke="#000" stroke-width="1.15" shape-rendering="geometricPrecision"/>
<path d="M318 424 C321.7 424.0 335.0 424.1 340 424 C345.0 423.9 346.0 424.4 348 423.6 C350.0 422.8 350.8 420.1 352 419 C353.2 417.9 354.5 417.3 355 417" fill="none" stroke="#000" stroke-width="2.8" stroke-linecap="round"/>
<ellipse cx="212.4" cy="431" rx="2.4" ry="1.4" fill="#fff" stroke="#000" stroke-width="1.15" shape-rendering="geometricPrecision"/>
<path d="M279 360.4 L326 359" fill="none" stroke="#000" stroke-width="3" stroke-linejoin="round"/>
<rect x="273.8" y="358.6" width="4.4" height="3.6" rx="0" fill="#fff" stroke="#000" stroke-width="1"/>
<path d="M326 359 C327.3 358.8 332.0 358.7 334 358 C336.0 357.3 337.3 358.3 338 355 C338.7 351.7 338.0 340.8 338 338" fill="none" stroke="#000" stroke-width="3" stroke-linecap="round"/>
<path d="M328.6 338 L328.6 355" fill="none" stroke="#000" stroke-width="1.8" stroke-linejoin="round"/>
<path d="M319 349 C319.2 350.0 318.8 353.4 320 355 C321.2 356.6 325.0 358.0 326 358.6" fill="none" stroke="#000" stroke-width="2" stroke-linecap="round"/>
<path d="M324 349 C324.1 350.0 323.9 353.5 324.4 355 C324.9 356.5 326.6 357.5 327 358" fill="none" stroke="#000" stroke-width="2" stroke-linecap="round"/>
<ellipse cx="319" cy="347" rx="1.6" ry="2.6" fill="#fff" stroke="#000" stroke-width="1.15" shape-rendering="geometricPrecision" transform="rotate(-10 319 347)"/>
<ellipse cx="324" cy="347" rx="1.6" ry="2.6" fill="#fff" stroke="#000" stroke-width="1.15" shape-rendering="geometricPrecision" transform="rotate(10 324 347)"/>
<path d="M297 366.6 C298.7 366.6 305.0 367.2 307 366.4 C309.0 365.6 308.7 363.1 309 362 C309.3 360.9 309.0 360.0 309 359.6" fill="none" stroke="#000" stroke-width="2.8" stroke-linecap="round"/>
<path d="M297 374 C298.5 374.0 304.0 374.7 306 374 C308.0 373.3 308.5 372.0 309 370 C309.5 368.0 309.0 363.3 309 362" fill="none" stroke="#000" stroke-width="2.8" stroke-linecap="round"/>
<ellipse cx="295" cy="366.6" rx="2.4" ry="2" fill="#fff" stroke="#000" stroke-width="1.15" shape-rendering="geometricPrecision"/>
<ellipse cx="295" cy="374" rx="2.4" ry="2" fill="#fff" stroke="#000" stroke-width="1.15" shape-rendering="geometricPrecision"/>
<path d="M332.9 314.1 C332.9 314.9 332.4 317.5 332.9 319.1 C333.4 320.8 335.1 322.7 336 324 C336.9 325.3 337.8 326.6 338.2 327.1" fill="none" stroke="#000" stroke-width="2.8" stroke-linecap="round"/>
<path d="M338.7 314.7 C338.1 315.4 335.8 317.7 335.4 319.1 C335.0 320.6 336.1 322.3 336.6 323.4 C337.1 324.5 338.2 325.5 338.5 325.9" fill="none" stroke="#000" stroke-width="2" stroke-linecap="round"/>
<ellipse cx="333.8" cy="310.8" rx="2.10318" ry="2.96919" fill="#fff" stroke="#000" stroke-width="1.15" shape-rendering="geometricPrecision" transform="rotate(20 333.8 310.8)"/>
<ellipse cx="339.3" cy="311.3" rx="1.85575" ry="2.72176" fill="#fff" stroke="#000" stroke-width="1.15" shape-rendering="geometricPrecision" transform="rotate(25 339.3 311.3)"/>
<path d="M338.5 320.9 L338.5 352.5" fill="none" stroke="#000" stroke-width="3" stroke-linejoin="round"/>
<path d="M338.5 352.5 C338.2 353.0 337.9 354.8 336.6 355.6 C335.4 356.4 332.8 357.0 331 357.4 C329.2 357.8 326.9 357.9 326.1 358" fill="none" stroke="#000" stroke-width="2.8" stroke-linecap="round"/>
<path d="M339.7 319.3 L359.5 319.3" fill="none" stroke="#000" stroke-width="3" stroke-linejoin="round"/>
<path d="M318.4 349.4 C318.5 350.2 318.6 353.1 319.3 354.3 C320.0 355.5 321.3 356.2 322.4 356.8 C323.5 357.4 325.5 357.8 326.1 358" fill="none" stroke="#000" stroke-width="2" stroke-linecap="round"/>
<path d="M323.9 349.4 C323.9 350.1 323.8 352.3 324.2 353.7 C324.6 355.1 325.8 357.1 326.1 357.8" fill="none" stroke="#000" stroke-width="2" stroke-linecap="round"/>
<ellipse cx="318.4" cy="346.9" rx="1.73203" ry="2.72176" fill="#fff" stroke="#000" stroke-width="1.15" shape-rendering="geometricPrecision" transform="rotate(-10 318.4 346.9)"/>
<ellipse cx="323.9" cy="346.7" rx="1.60831" ry="2.47433" fill="#fff" stroke="#000" stroke-width="1.15" shape-rendering="geometricPrecision" transform="rotate(5 323.9 346.7)"/>
<path d="M346.5 322.2 L346.5 344.4" fill="none" stroke="#000" stroke-width="1" stroke-linejoin="round"/>
<rect x="354.3" y="289.9" width="3.46406" height="3.71149" rx="1.23716" fill="#fff" stroke="#000" stroke-width="1"/>
<rect x="354.3" y="293.7" width="3.46406" height="4.94866" rx="1.23716" fill="#fff" stroke="#000" stroke-width="1"/>
<path d="M359.5 319.3 C359.9 318.6 361.0 316.5 362 315.4 C363.0 314.3 365.1 313.3 365.7 312.9" fill="none" stroke="#000" stroke-width="3" stroke-linecap="round"/>
<path d="M359.5 319.3 L366.9 319.3" fill="none" stroke="#000" stroke-width="3" stroke-linejoin="round"/>
<path d="M359.5 319.7 C360.0 320.3 361.4 322.4 362.6 323.2 C363.8 324.0 366.2 324.4 366.9 324.6" fill="none" stroke="#000" stroke-width="3" stroke-linecap="round"/>
<rect x="366.9" y="310.5" width="4.45379" height="3.46406" rx="1.4846" fill="#fff" stroke="#000" stroke-width="1"/>
<rect x="367.8" y="317.2" width="4.94866" height="3.71149" rx="1.4846" fill="#fff" stroke="#000" stroke-width="1"/>
<rect x="367.5" y="323" width="4.94866" height="3.21663" rx="1.4846" fill="#fff" stroke="#000" stroke-width="1"/>
<path d="M359.5 339.5 C359.4 338.5 358.4 334.7 359.2 333.3 C360.0 331.9 363.5 331.5 364.4 331.1" fill="none" stroke="#000" stroke-width="3" stroke-linecap="round"/>
<rect x="364.7" y="328.7" width="5.56724" height="4.20636" rx="1.4846" fill="#fff" stroke="#000" stroke-width="1"/>
<path d="M349.6 339.7 L363.8 339.9" fill="none" stroke="#000" stroke-width="3" stroke-linejoin="round"/>
<path d="M371.9 339.9 L376.2 339.7" fill="none" stroke="#000" stroke-width="1" stroke-linejoin="round"/>
<ellipse cx="365.7" cy="340.1" rx="1.85575" ry="2.2269" fill="#fff" stroke="#000" stroke-width="1.15" shape-rendering="geometricPrecision"/>
<ellipse cx="369.8" cy="340.1" rx="1.85575" ry="2.2269" fill="#fff" stroke="#000" stroke-width="1.15" shape-rendering="geometricPrecision"/>
<rect x="376.2" y="337.5" width="6.18582" height="3.95893" rx="1.23716" fill="#fff" stroke="#000" stroke-width="1"/>
<path d="M352.7 354.3 C353.1 353.3 353.8 349.4 355.2 348.1 C356.6 346.8 360.3 346.8 361.3 346.5" fill="none" stroke="#000" stroke-width="3" stroke-linecap="round"/>
<ellipse cx="363.2" cy="346.5" rx="2.47433" ry="1.73203" fill="#fff" stroke="#000" stroke-width="1.15" shape-rendering="geometricPrecision" transform="rotate(-15 363.2 346.5)"/>
<path d="M359.5 357.4 C359.8 356.6 360.0 353.6 361.3 352.5 C362.6 351.4 366.5 351.2 367.5 350.9" fill="none" stroke="#000" stroke-width="3" stroke-linecap="round"/>
<rect x="367.8" y="349" width="4.94866" height="3.71149" rx="1.23716" fill="#fff" stroke="#000" stroke-width="1"/>
<path d="M362 360 C362.3 359.6 363.2 357.8 363.8 357.4 C364.4 357.0 365.4 357.4 365.7 357.4" fill="none" stroke="#000" stroke-width="3" stroke-linecap="round"/>
<rect x="364.4" y="356.3" width="4.45379" height="2.96919" rx="1.23716" fill="#fff" stroke="#000" stroke-width="1"/>
<rect x="372.1" y="356.6" width="4.45379" height="2.96919" rx="1.23716" fill="#fff" stroke="#000" stroke-width="1"/>
<path d="M415.4 341.3 L415.4 360" fill="none" stroke="#000" stroke-width="3" stroke-linejoin="round"/>
<ellipse cx="415.4" cy="339.5" rx="1.97946" ry="2.96919" fill="#fff" stroke="#000" stroke-width="1.15" shape-rendering="geometricPrecision"/>
<path d="M353.5 355 L353.5 363.7" fill="none" stroke="#000" stroke-width="1.3" stroke-linejoin="round"/>
<path d="M356.5 355 L356.5 363.7" fill="none" stroke="#000" stroke-width="1.3" stroke-linejoin="round"/>
<path d="M359.7 355 L359.7 363.7" fill="none" stroke="#000" stroke-width="1.3" stroke-linejoin="round"/>
<path d="M350.2 355 L350.2 362.7" fill="none" stroke="#000" stroke-width="3" stroke-linejoin="round"/>
<path d="M359.5 358.5 L364.4 358.7" fill="none" stroke="#000" stroke-width="1.6" stroke-linejoin="round"/>
<path d="M370.6 358.7 L371.9 358.7" fill="none" stroke="#000" stroke-width="1.2" stroke-linejoin="round"/>
<rect x="364.3" y="356.7" width="4.70122" height="3.95893" rx="1.4846" fill="#fff" stroke="#000" stroke-width="1"/>
<rect x="371.9" y="356.9" width="4.94866" height="3.71149" rx="1.4846" fill="#fff" stroke="#000" stroke-width="1"/>
<path d="M358.9 365.5 L366.9 365.9" fill="none" stroke="#000" stroke-width="1.6" stroke-linejoin="round"/>
<rect x="367.5" y="364.3" width="4.94866" height="3.21663" rx="1.4846" fill="#fff" stroke="#000" stroke-width="1"/>
<path d="M345.3 370.5 L345.3 378.5 L350.8 382.5 L356.4 381" fill="none" stroke="#000" stroke-width="1" stroke-linejoin="round"/>
<path d="M347.7 363.7 L352.7 366.8 L352.7 371.1" fill="none" stroke="#000" stroke-width="1" stroke-linejoin="round"/>
<path d="M353.3 369.8 C353.5 370.6 353.5 373.7 354.5 374.8 C355.5 375.9 357.9 376.3 359.5 376.3 C361.1 376.3 363.6 375.1 364.4 374.8" fill="none" stroke="#000" stroke-width="3" stroke-linecap="round"/>
<path d="M351.4 383.7 C352.3 383.6 355.6 383.7 357 383.2 C358.4 382.7 358.3 381.2 359.5 380.7 C360.7 380.2 363.6 380.4 364.4 380.4" fill="none" stroke="#000" stroke-width="3" stroke-linecap="round"/>
<path d="M353.3 369.8 L353.3 381.6" fill="none" stroke="#000" stroke-width="1.8" stroke-linejoin="round"/>
<rect x="364.4" y="373.1" width="4.20636" height="3.46406" rx="1.4846" fill="#fff" stroke="#000" stroke-width="1"/>
<rect x="364.4" y="378.6" width="4.20636" height="3.46406" rx="1.4846" fill="#fff" stroke="#000" stroke-width="1"/>
<path d="M354.5 388.4 L359.5 388.4" fill="none" stroke="#000" stroke-width="3" stroke-linejoin="round"/>
<ellipse cx="361" cy="388.4" rx="1.73203" ry="1.97946" fill="#fff" stroke="#000" stroke-width="1.15" shape-rendering="geometricPrecision"/>
<rect x="364.1" y="386.5" width="4.45379" height="3.71149" rx="1.4846" fill="#fff" stroke="#000" stroke-width="1"/>
<path d="M351.4 390.3 L351.4 400.2" fill="none" stroke="#000" stroke-width="3" stroke-linejoin="round"/>
<path d="M355.8 393.4 L362.6 393.1 L363.4 401.4 L355.8 402.3 Z" fill="#fff" stroke="#000" stroke-width="1" stroke-linejoin="round"/>
<ellipse cx="345" cy="398.9" rx="1.23716" ry="2.2269" fill="#fff" stroke="#000" stroke-width="1.15" shape-rendering="geometricPrecision" transform="rotate(10 345 398.9)"/>
<path d="M351.4 402.6 L351.4 413.1" fill="none" stroke="#000" stroke-width="3" stroke-linejoin="round"/>
<path d="M344.6 405.7 C344.9 406.4 345.4 408.9 346.5 410.1 C347.6 411.3 349.8 412.4 351.4 412.9 C353.0 413.4 355.6 413.1 356.4 413.1" fill="none" stroke="#000" stroke-width="3" stroke-linecap="round"/>
<path d="M352.1 412.5 C352.7 411.8 354.6 409.2 355.8 408.2 C357.0 407.2 357.8 406.6 359.5 406.3 C361.2 406.0 365.2 406.3 366.3 406.3" fill="none" stroke="#000" stroke-width="3" stroke-linecap="round"/>
<path d="M356.4 413.1 C357.1 413.3 359.8 413.4 360.7 414.4 C361.6 415.4 361.4 418.0 362 419.3 C362.6 420.6 362.8 422.3 364.4 422.4 C366.0 422.5 369.4 421.0 371.9 420 C374.4 419.0 378.1 417.2 379.3 416.6" fill="none" stroke="#000" stroke-width="3" stroke-linecap="round"/>
<path d="M364.4 410.7 C364.6 411.5 365.1 414.5 365.7 415.6 C366.3 416.7 365.9 417.9 368.1 417.5 C370.3 417.1 376.9 413.8 378.7 413.1" fill="none" stroke="#000" stroke-width="1" stroke-linecap="round"/>
<path d="M349.6 415.6 C349.0 416.2 346.7 418.0 345.9 419.3 C345.1 420.6 344.8 423.0 344.6 423.7" fill="none" stroke="#000" stroke-width="1" stroke-linecap="round"/>
<path d="M352.1 414.4 C352.8 414.8 355.7 415.7 356.4 416.9 C357.1 418.1 357.3 420.4 356.4 421.8 C355.5 423.2 351.7 424.5 350.8 425" fill="none" stroke="#000" stroke-width="1" stroke-linecap="round"/>
<path d="M317.4 423.7 L344.6 423.7" fill="none" stroke="#000" stroke-width="3" stroke-linejoin="round"/>
<path d="M370.2 398.3 L371.5 403.5" fill="none" stroke="#000" stroke-width="1.6" stroke-linejoin="round"/>
<path d="M375.6 398.3 L375 403.5" fill="none" stroke="#000" stroke-width="1.6" stroke-linejoin="round"/>
<ellipse cx="369.8" cy="396.4" rx="1.36088" ry="2.72176" fill="#fff" stroke="#000" stroke-width="1.15" shape-rendering="geometricPrecision" transform="rotate(-12 369.8 396.4)"/>
<ellipse cx="375.6" cy="396.2" rx="1.36088" ry="2.72176" fill="#fff" stroke="#000" stroke-width="1.15" shape-rendering="geometricPrecision" transform="rotate(8 375.6 396.2)"/>
<rect x="366.9" y="403.5" width="11.1345" height="6.43325" rx="0" fill="#fff" stroke="#000" stroke-width="1"/>
<path d="M404.6 355 L410.8 388.4" fill="none" stroke="#000" stroke-width="1" stroke-linejoin="round"/>
<path d="M415.4 355 L415.4 385.9" fill="none" stroke="#000" stroke-width="3" stroke-linejoin="round"/>
<path d="M415.6 341 L415.6 396.4 L412 399 L385 411.6" fill="none" stroke="#000" stroke-width="3" stroke-linejoin="round"/>
<path d="M419 401.6 L381 416" fill="none" stroke="#000" stroke-width="1" stroke-linejoin="round"/>
<path d="M385 414 L413 402.4" fill="none" stroke="#000" stroke-width="1.6" stroke-linejoin="round"/>
<path d="M403 338 L411 388 L413.4 390.4" fill="none" stroke="#000" stroke-width="1" stroke-linejoin="round"/>
<path d="M417 401.6 L469.6 401.6 L469.6 424.4 L392 424.4" fill="none" stroke="#000" stroke-width="1" stroke-linejoin="round"/>
<path d="M417 401.6 L392 411.6" fill="none" stroke="#000" stroke-width="1" stroke-linejoin="round"/>
<path d="M360 418 C360.1 419.0 359.9 422.7 360.6 424 C361.3 425.3 361.6 425.7 364 426 C366.4 426.3 373.2 426.0 375 426" fill="none" stroke="#000" stroke-width="3" stroke-linecap="round"/>
<path d="M375 426.2 L479 426.2" fill="none" stroke="#000" stroke-width="2.2" stroke-linejoin="round"/>
<path d="M364 410 C364.2 411.2 364.2 415.7 365 417 C365.8 418.3 366.5 418.6 369 418 C371.5 417.4 378.2 414.3 380 413.6" fill="none" stroke="#000" stroke-width="1" stroke-linecap="round"/>
<path d="M367 424 L381 418" fill="none" stroke="#000" stroke-width="1.6" stroke-linejoin="round"/>
<path d="M474.2 418 C474.3 418.8 474.4 421.7 475 423 C475.6 424.3 477.5 425.5 478 426" fill="none" stroke="#000" stroke-width="2.8" stroke-linecap="round"/>
<path d="M480.6 418 C480.5 418.8 480.5 421.7 480 423 C479.5 424.3 477.8 425.5 477.4 426" fill="none" stroke="#000" stroke-width="2.8" stroke-linecap="round"/>
<path d="M479 426 C480.0 425.3 483.8 423.5 485 422 C486.2 420.5 484.7 418.2 486 417 C487.3 415.8 491.8 415.3 493 415" fill="none" stroke="#000" stroke-width="3" stroke-linecap="round"/>
<path d="M486 418 C487.2 418.2 491.0 418.3 493 419 C495.0 419.7 497.5 420.8 498 422 C498.5 423.2 497.2 425.3 496 426 C494.8 426.7 491.8 426.0 491 426" fill="none" stroke="#000" stroke-width="3" stroke-linecap="round"/>
<ellipse cx="474" cy="415" rx="2" ry="2.8" fill="#fff" stroke="#000" stroke-width="1.15" shape-rendering="geometricPrecision" transform="rotate(-10 474 415)"/>
<ellipse cx="480.6" cy="415" rx="2" ry="2.8" fill="#fff" stroke="#000" stroke-width="1.15" shape-rendering="geometricPrecision" transform="rotate(10 480.6 415)"/>
<ellipse cx="495" cy="414.4" rx="2.8" ry="2" fill="#fff" stroke="#000" stroke-width="1.15" shape-rendering="geometricPrecision"/>
<ellipse cx="488.6" cy="425.6" rx="2.8" ry="1.8" fill="#fff" stroke="#000" stroke-width="1.15" shape-rendering="geometricPrecision"/>
<path d="M349.6 337 L349.6 362" fill="none" stroke="#000" stroke-width="3" stroke-linejoin="round"/>
<path d="M356.2 337 L356.2 364" fill="none" stroke="#000" stroke-width="2" stroke-linejoin="round"/>
<path d="M396.4 100.4 C402.0 97.6 419.7 88.7 430 83.6 C440.3 78.5 453.3 71.9 458 69.6" fill="none" stroke="#000" stroke-width="1" stroke-linecap="round"/>
<path d="M458 69.6 C458.7 69.5 460.7 68.5 462 68.8 C463.3 69.1 464.7 69.9 466 71.6 C467.3 73.3 469.3 77.8 470 79" fill="none" stroke="#000" stroke-width="1" stroke-linecap="round"/>
<path d="M470 79 L471.2 93.6" fill="none" stroke="#000" stroke-width="1" stroke-linejoin="round"/>
<path d="M471.2 93.6 C467.7 95.5 456.9 101.2 450 105 C443.1 108.8 436.7 112.7 430 116.4 C423.3 120.1 413.3 125.2 410 127" fill="none" stroke="#000" stroke-width="1" stroke-linecap="round"/>
<path d="M410 127 L394 117.6 L396.4 100.4" fill="none" stroke="#000" stroke-width="1" stroke-linejoin="round"/>
<path d="M396.4 100.4 C397.5 101.1 400.8 103.2 403 104.4 C405.2 105.6 408.3 107.1 409.4 107.6" fill="none" stroke="#000" stroke-width="1" stroke-linecap="round"/>
<path d="M409.4 107.6 C412.8 106.0 423.2 101.3 430 98 C436.8 94.7 443.3 91.2 450 88 C456.7 84.8 466.7 80.5 470 79" fill="none" stroke="#000" stroke-width="1" stroke-linecap="round"/>
<path d="M409.4 107.6 L410.4 123.6" fill="none" stroke="#000" stroke-width="1" stroke-linejoin="round"/>
<path d="M410.4 121 C413.7 119.3 423.4 114.3 430 111 C436.6 107.7 443.1 104.5 450 101 C456.9 97.5 467.7 91.8 471.2 90" fill="none" stroke="#000" stroke-width="1" stroke-linecap="round"/>
<path d="M410 124.4 C413.3 122.7 423.3 117.6 430 114 C436.7 110.4 443.1 106.7 450 103 C456.9 99.3 467.7 93.8 471.2 92" fill="none" stroke="#000" stroke-width="1" stroke-linecap="round"/>
<path d="M394.4 117 L398 121 L399.6 118 L402.4 125 L404 120 L406.4 127" fill="none" stroke="#000" stroke-width="1.4" stroke-linejoin="round"/>
<path d="M401 119 L401 123" fill="none" stroke="#000" stroke-width="2" stroke-linejoin="round"/>
<path d="M405 121 L405 125.6" fill="none" stroke="#000" stroke-width="2" stroke-linejoin="round"/>
<path d="M345.6 124 C344.9 124.3 342.5 124.7 341.6 126 C340.7 127.3 339.9 130.3 340 132 C340.1 133.7 341.0 135.8 342 136.4 C343.0 137.0 345.3 135.7 346 135.6" fill="none" stroke="#000" stroke-width="1" stroke-linecap="round"/>
<path d="M345.6 124 C346.2 124.3 348.3 124.7 349 126 C349.7 127.3 350.0 130.3 350 132 C350.0 133.7 349.2 135.3 349 136" fill="none" stroke="#000" stroke-width="1" stroke-linecap="round"/>
<path d="M348.4 128 C347.8 127.9 345.7 127.1 345 127.6 C344.3 128.1 343.8 130.0 344 131 C344.2 132.0 345.3 133.3 346 133.6 C346.7 133.9 347.6 132.8 348.4 133 C349.2 133.2 350.6 134.7 351 135" fill="none" stroke="#000" stroke-width="1" stroke-linecap="round"/>
<path d="M350 134.4 L383.6 150.4" fill="none" stroke="#000" stroke-width="1" stroke-dasharray="7 2.5" stroke-linejoin="round"/>
<path d="M410 162 L456 188" fill="none" stroke="#000" stroke-width="1" stroke-dasharray="7 2.5" stroke-linejoin="round"/>
<path d="M382 149 L384 146.4 L390 147.6 L395 153 L395 167 L390 167 L382.4 162 Z" fill="none" stroke="#000" stroke-width="1" stroke-linejoin="round"/>
<path d="M387 156 L388.4 152.4 L390 156" fill="none" stroke="#000" stroke-width="1" stroke-linejoin="round"/>
<path d="M384 146.4 L385.6 160 L390 167" fill="none" stroke="#000" stroke-width="1" stroke-linejoin="round"/>
<path d="M395 153 C399.2 150.5 412.5 142.3 420 138 C427.5 133.7 434.3 130.0 440 127 C445.7 124.0 452.0 121.2 454.4 120" fill="none" stroke="#000" stroke-width="1" stroke-linecap="round"/>
<path d="M454.4 120 L459 108 L463 106.4 L466 110 L467 127" fill="none" stroke="#000" stroke-width="1" stroke-linejoin="round"/>
<path d="M456.4 120 L460 111 L463.6 110" fill="none" stroke="#000" stroke-width="1" stroke-linejoin="round"/>
<ellipse cx="463" cy="113.6" rx="1.2" ry="1.6" fill="#fff" stroke="#000" stroke-width="1.15" shape-rendering="geometricPrecision"/>
<path d="M398 149 C401.7 146.8 413.0 139.8 420 136 C427.0 132.2 434.0 128.7 440 126 C446.0 123.3 453.3 121.0 456 120" fill="none" stroke="#000" stroke-width="1" stroke-linecap="round"/>
<path d="M456 120 L467 127 L410 160 L398 149" fill="none" stroke="#000" stroke-width="1" stroke-linejoin="round"/>
<path d="M400 152.4 C404.3 150.3 418.0 144.1 426 140 C434.0 135.9 441.7 130.0 448 128 C454.3 126.0 461.3 128.0 464 128" fill="none" stroke="#000" stroke-width="1" stroke-linecap="round"/>
<path d="M403 151.6 L411 146 L418 151.2 L409.4 156.6 Z" fill="none" stroke="#000" stroke-width="1" stroke-linejoin="round"/>
<path d="M411 146 L412 152.6 L409.4 156.6" fill="none" stroke="#000" stroke-width="1" stroke-linejoin="round"/>
<path d="M412 152.6 L418 151.2" fill="none" stroke="#000" stroke-width="1" stroke-linejoin="round"/>
<path d="M414 145.6 L422 140 L429 145.2 L420.4 150.6 Z" fill="none" stroke="#000" stroke-width="1" stroke-linejoin="round"/>
<path d="M422 140 L423 146.6 L420.4 150.6" fill="none" stroke="#000" stroke-width="1" stroke-linejoin="round"/>
<path d="M423 146.6 L429 145.2" fill="none" stroke="#000" stroke-width="1" stroke-linejoin="round"/>
<path d="M426 139 L434 133.4 L441 138.6 L432.4 144 Z" fill="none" stroke="#000" stroke-width="1" stroke-linejoin="round"/>
<path d="M434 133.4 L435 140 L432.4 144" fill="none" stroke="#000" stroke-width="1" stroke-linejoin="round"/>
<path d="M435 140 L441 138.6" fill="none" stroke="#000" stroke-width="1" stroke-linejoin="round"/>
<path d="M438.4 132 L446.4 126.4 L453.4 131.6 L444.8 137 Z" fill="none" stroke="#000" stroke-width="1" stroke-linejoin="round"/>
<path d="M446.4 126.4 L447.4 133 L444.8 137" fill="none" stroke="#000" stroke-width="1" stroke-linejoin="round"/>
<path d="M447.4 133 L453.4 131.6" fill="none" stroke="#000" stroke-width="1" stroke-linejoin="round"/>
<path d="M450 125.6 L458 120 L465 125.2 L456.4 130.6 Z" fill="none" stroke="#000" stroke-width="1" stroke-linejoin="round"/>
<path d="M458 120 L459 126.6 L456.4 130.6" fill="none" stroke="#000" stroke-width="1" stroke-linejoin="round"/>
<path d="M459 126.6 L465 125.2" fill="none" stroke="#000" stroke-width="1" stroke-linejoin="round"/>
<path d="M395 167 L410 176 L410 160" fill="none" stroke="#000" stroke-width="1" stroke-linejoin="round"/>
<path d="M410 176 C413.3 174.3 423.7 169.2 430 166 C436.3 162.8 443.0 159.7 448 157 C453.0 154.3 458.0 151.2 460 150" fill="none" stroke="#000" stroke-width="1" stroke-linecap="round"/>
<path d="M460 150 L466 142 L468 130 L467 127" fill="none" stroke="#000" stroke-width="1" stroke-linejoin="round"/>
<path d="M465 133 L468 133 L469 141 L466 142" fill="none" stroke="#000" stroke-width="1" stroke-linejoin="round"/>
<path d="M410 163.6 C413.3 161.8 423.7 156.3 430 153 C436.3 149.7 442.7 146.3 448 144 C453.3 141.7 459.7 139.8 462 139" fill="none" stroke="#000" stroke-width="1" stroke-linecap="round"/>
<path d="M437 152.4 L437 162" fill="none" stroke="#000" stroke-width="1" stroke-linejoin="round"/>
<path d="M441 150.4 L441 160" fill="none" stroke="#000" stroke-width="1" stroke-linejoin="round"/>
<path d="M418 160 L418 171" fill="none" stroke="#000" stroke-width="1" stroke-linejoin="round"/>
<path d="M396 158 L409 164" fill="none" stroke="#000" stroke-width="1.4" stroke-linejoin="round"/>
<path d="M442 157 C444.0 156.2 451.0 153.9 454 152.4 C457.0 150.9 458.8 149.9 460 148 C461.2 146.1 460.8 142.2 461 141" fill="none" stroke="#000" stroke-width="1" stroke-linecap="round"/>
<path d="M456 188 L460 187 L466 192.4 L463 194 L456 188" fill="none" stroke="#000" stroke-width="1" stroke-linejoin="round"/>
<path d="M458.4 189 L460.6 192" fill="none" stroke="#000" stroke-width="1.4" stroke-linejoin="round"/>
<path d="M460.6 188 L463.2 192.4" fill="none" stroke="#000" stroke-width="1.4" stroke-linejoin="round"/>
<path d="M462.4 189.4 L464.8 193.2" fill="none" stroke="#000" stroke-width="1.4" stroke-linejoin="round"/>
<ellipse cx="469.6" cy="195.6" rx="3.4" ry="3.4" fill="#fff" stroke="#000" stroke-width="1.15" shape-rendering="geometricPrecision"/>
<path d="M465 194 L467 198" fill="none" stroke="#000" stroke-width="1" stroke-linejoin="round"/>
<path d="M103 208 L111 203.6 L118 208 L118 211 L122.4 216 L123.6 227 L117 233 L103 233 L99 230 L99 224 L95 221 L98 216 L102 214 Z" fill="none" stroke="#000" stroke-width="1" stroke-linejoin="round"/>
<path d="M103 208 L110 212 L118 208" fill="none" stroke="#000" stroke-width="1" stroke-linejoin="round"/>
<path d="M102 214 L110 217.6 L118 211" fill="none" stroke="#000" stroke-width="1" stroke-linejoin="round"/>
<path d="M110 212 L110 217.6" fill="none" stroke="#000" stroke-width="1" stroke-linejoin="round"/>
<path d="M107 218 L107 231" fill="none" stroke="#000" stroke-width="1.4" stroke-linejoin="round"/>
<path d="M110 219 L110 232" fill="none" stroke="#000" stroke-width="1" stroke-linejoin="round"/>
<path d="M99 224 L103 226 L103 233" fill="none" stroke="#000" stroke-width="1" stroke-linejoin="round"/>
<path d="M113 217 L120 214.4" fill="none" stroke="#000" stroke-width="1" stroke-linejoin="round"/>
<path d="M113 220 L121 217" fill="none" stroke="#000" stroke-width="1" stroke-linejoin="round"/>
<path d="M113 216 L113 222" fill="none" stroke="#000" stroke-width="1.6" stroke-linejoin="round"/>
<path d="M113 223 C113.7 222.6 115.6 220.9 117 220.4 C118.4 219.9 120.7 219.1 121.6 220 C122.5 220.9 123.0 224.4 122.4 226 C121.8 227.6 119.6 229.1 118 229.6 C116.4 230.1 114.2 229.6 113 229 C111.8 228.4 111.0 227.0 111 226 C111.0 225.0 112.7 223.5 113 223" fill="none" stroke="#000" stroke-width="1.4" stroke-linecap="round"/>
<path d="M108 229 L110 232.4 L113 229.6" fill="none" stroke="#000" stroke-width="1.4" stroke-linejoin="round"/>
<path d="M117 222 L117 229" fill="none" stroke="#000" stroke-width="1" stroke-linejoin="round"/>
<path d="M736.4 294.3 L747.4 300.5" fill="none" stroke="#000" stroke-width="1" stroke-linejoin="round"/>
<path d="M751.6 302.9 L801.9 331.3 L803.1 333.8 L801.5 336.4" fill="none" stroke="#000" stroke-width="1" stroke-linejoin="round"/>
<path d="M801.5 336.4 L764.5 392.5 L699.6 355.8 L696.8 351.6 L733.7 295.4 L736.4 294.3" fill="none" stroke="#000" stroke-width="1" stroke-linejoin="round"/>
<path d="M696.8 351.6 L692.4 355.3 L692.5 358 L759.4 395.8 L764.5 392.5" fill="none" stroke="#000" stroke-width="1" stroke-linejoin="round"/>
<path d="M759.4 395.8 L761 390.5" fill="none" stroke="#000" stroke-width="1" stroke-linejoin="round"/>
<path d="M737 297.7 L745.9 302.8" fill="none" stroke="#000" stroke-width="1" stroke-linejoin="round"/>
<path d="M751 305.2 L799.3 332.5" fill="none" stroke="#000" stroke-width="1" stroke-linejoin="round"/>
<path d="M735.6 298.3 L716.5 327.3" fill="none" stroke="#000" stroke-width="1" stroke-linejoin="round"/>
<path d="M737.5 301.1 L723.5 322.4" fill="none" stroke="#000" stroke-width="1" stroke-linejoin="round"/>
<path d="M716.5 327.3 L712.9 327" fill="none" stroke="#000" stroke-width="1" stroke-linejoin="round"/>
<path d="M795.4 338.3 L778.4 364.1" fill="none" stroke="#000" stroke-width="1" stroke-linejoin="round"/>
<path d="M792.9 335.1 L780.1 354.4" fill="none" stroke="#000" stroke-width="1" stroke-linejoin="round"/>
<path d="M780.6 368 L778.4 364.1" fill="none" stroke="#000" stroke-width="1" stroke-linejoin="round"/>
<path d="M715.8 326.9 L698.8 352.7 L763.7 389.4 L778.6 366.8" fill="none" stroke="#000" stroke-width="1" stroke-linejoin="round"/>
<path d="M717 329.4 L777.8 363.7" fill="none" stroke="#000" stroke-width="1" stroke-linejoin="round"/>
<path d="M748.3 317.8 L770.4 330.3 L758.5 348.4" fill="none" stroke="#000" stroke-width="1" stroke-linejoin="round"/>
<path d="M772 332.1 L759.3 351.5" fill="none" stroke="#000" stroke-width="1" stroke-linejoin="round"/>
<path d="M722.5 329.8 L755.6 348.5" fill="none" stroke="#000" stroke-width="1" stroke-linejoin="round"/>
<path d="M719.2 333.3 L775.8 365.2 L770.5 373.3 L713.9 341.3 Z" fill="none" stroke="#000" stroke-width="1" stroke-linejoin="round"/>
<path d="M712.8 342.9 L769.4 374.9" fill="none" stroke="#000" stroke-width="1.4" stroke-linejoin="round"/>
<path d="M727.3 337.8 L722 345.9" fill="none" stroke="#000" stroke-width="1.6" stroke-linejoin="round"/>
<path d="M735.4 342.4 L730 350.5" fill="none" stroke="#000" stroke-width="1" stroke-linejoin="round"/>
<path d="M743.4 347 L738.1 355" fill="none" stroke="#000" stroke-width="1.6" stroke-linejoin="round"/>
<path d="M751.5 351.5 L746.2 359.6" fill="none" stroke="#000" stroke-width="1" stroke-linejoin="round"/>
<path d="M759.6 356.1 L754.3 364.1" fill="none" stroke="#000" stroke-width="1.6" stroke-linejoin="round"/>
<path d="M767.7 360.6 L762.3 368.7" fill="none" stroke="#000" stroke-width="1" stroke-linejoin="round"/>
<path d="M711.1 345.5 L767.7 377.5 L762.4 385.6 L705.8 353.6 Z" fill="none" stroke="#000" stroke-width="1" stroke-linejoin="round"/>
<path d="M704.8 355.2 L761.3 387.2" fill="none" stroke="#000" stroke-width="1.4" stroke-linejoin="round"/>
<path d="M719.2 350.1 L713.9 358.1" fill="none" stroke="#000" stroke-width="1.6" stroke-linejoin="round"/>
<path d="M727.3 354.6 L722 362.7" fill="none" stroke="#000" stroke-width="1" stroke-linejoin="round"/>
<path d="M735.4 359.2 L730 367.3" fill="none" stroke="#000" stroke-width="1.6" stroke-linejoin="round"/>
<path d="M743.4 363.8 L738.1 371.8" fill="none" stroke="#000" stroke-width="1" stroke-linejoin="round"/>
<path d="M751.5 368.3 L746.2 376.4" fill="none" stroke="#000" stroke-width="1.6" stroke-linejoin="round"/>
<path d="M759.6 372.9 L754.3 381" fill="none" stroke="#000" stroke-width="1" stroke-linejoin="round"/>
<path d="M712 344.2 L768.6 376.2" fill="none" stroke="#000" stroke-width="1.4" stroke-linejoin="round"/>
<path d="M737 312.8 L744.6 317.1 L744.3 320.4 L741.7 324.3 L734.1 320 L734.4 316.6 Z" fill="#fff" stroke="#000" stroke-width="1" stroke-linejoin="round"/>
<path d="M739.7 314.3 L735.5 320.8" fill="none" stroke="#000" stroke-width="1.4" stroke-linejoin="round"/>
<path d="M743.2 316.3 L738.9 322.7" fill="none" stroke="#000" stroke-width="1" stroke-linejoin="round"/>
<path d="M735.3 315.3 L744.3 320.4" fill="none" stroke="#000" stroke-width="1" stroke-linejoin="round"/>
<path d="M730.2 323.1 L737.8 327.4 L737.5 330.7 L734.9 334.6 L727.3 330.3 L727.6 327 Z" fill="#fff" stroke="#000" stroke-width="1" stroke-linejoin="round"/>
<path d="M732.9 324.6 L728.7 331.1" fill="none" stroke="#000" stroke-width="1.4" stroke-linejoin="round"/>
<path d="M736.4 326.6 L732.1 333" fill="none" stroke="#000" stroke-width="1" stroke-linejoin="round"/>
<path d="M728.5 325.7 L737.5 330.7" fill="none" stroke="#000" stroke-width="1" stroke-linejoin="round"/>
<path d="M775.5 334.1 L783.8 338.8 L783 342.8 L777.5 344.1 L771.2 340.5 Z" fill="#fff" stroke="#000" stroke-width="1" stroke-linejoin="round"/>
<path d="M777.6 335.3 L773.3 341.7" fill="none" stroke="#000" stroke-width="1.6" stroke-linejoin="round"/>
<path d="M780.3 336.8 L776.1 343.3" fill="none" stroke="#000" stroke-width="1" stroke-linejoin="round"/>
<path d="M773.4 337.3 L782.3 342.4" fill="none" stroke="#000" stroke-width="1" stroke-linejoin="round"/>
<path d="M768 344 L780.4 351 L780.1 354.4 L777 356.2 L764.6 349.2 Z" fill="#fff" stroke="#000" stroke-width="1" stroke-linejoin="round"/>
<path d="M769.4 344.8 L767.4 350.7" fill="none" stroke="#000" stroke-width="1.4" stroke-linejoin="round"/>
<path d="M771.5 346 L769.4 351.9" fill="none" stroke="#000" stroke-width="1.4" stroke-linejoin="round"/>
<path d="M773.5 347.1 L771.5 353.1" fill="none" stroke="#000" stroke-width="1.4" stroke-linejoin="round"/>
<path d="M775.6 348.3 L773.6 354.2" fill="none" stroke="#000" stroke-width="1.4" stroke-linejoin="round"/>
<path d="M777.7 349.5 L775.6 355.4" fill="none" stroke="#000" stroke-width="1.4" stroke-linejoin="round"/>
<path d="M779.7 350.6 L777.7 356.6" fill="none" stroke="#000" stroke-width="1.4" stroke-linejoin="round"/>
<path d="M766.3 346.6 L779.4 354" fill="none" stroke="#000" stroke-width="1.2" stroke-linejoin="round"/>
<path d="M679.3 365 L686 362.3 L713.3 379 L714.7 390.3 L708.7 393.7 L678.7 377 Z" fill="#fff" stroke="#000" stroke-width="1" stroke-linejoin="round"/>
<path d="M679.3 365 L683.3 367.7 L710 383 L713.3 379" fill="none" stroke="#000" stroke-width="1" stroke-linejoin="round"/>
<path d="M683.3 367.7 L686 362.3" fill="none" stroke="#000" stroke-width="1" stroke-linejoin="round"/>
<path d="M710 383 L708.7 393.7" fill="none" stroke="#000" stroke-width="1" stroke-linejoin="round"/>
<path d="M693.3 368.3 L690 371.7" fill="none" stroke="#000" stroke-width="1" stroke-linejoin="round"/>
<path d="M701.3 373 L698 376.3" fill="none" stroke="#000" stroke-width="1" stroke-linejoin="round"/>
<path d="M686.7 366.3 C687.2 366.2 688.9 365.4 690 365.7 C691.1 366.0 692.8 367.9 693.3 368.3" fill="none" stroke="#000" stroke-width="1" stroke-linecap="round"/>
<path d="M695.3 371 C695.9 370.9 697.7 370.0 698.7 370.3 C699.7 370.6 700.9 372.6 701.3 373" fill="none" stroke="#000" stroke-width="1" stroke-linecap="round"/>
<path d="M704 376.1 C704.5 376.0 706.3 375.3 707.3 375.7 C708.3 376.1 709.5 377.9 710 378.3" fill="none" stroke="#000" stroke-width="1" stroke-linecap="round"/>
<path d="M678.7 377 L678 380.3 L673.3 379.7 L671.3 383.7 L671.3 389.7 L678 397.7 L722.7 421.7 L729.3 417.7 L733.3 413.7 L733.3 397.7 L714.7 387" fill="none" stroke="#000" stroke-width="1" stroke-linejoin="round"/>
<path d="M678 380.3 L678 397.7" fill="none" stroke="#000" stroke-width="1" stroke-linejoin="round"/>
<path d="M680 381 L680 395" fill="none" stroke="#000" stroke-width="1.4" stroke-linejoin="round"/>
<path d="M673.3 385 L674.4 386.7 L673.1 387.7" fill="none" stroke="#000" stroke-width="1" stroke-linejoin="round"/>
<path d="M683.3 383.7 L722.7 405" fill="none" stroke="#000" stroke-width="1" stroke-linejoin="round"/>
<path d="M683.3 390.3 L722 411" fill="none" stroke="#000" stroke-width="1" stroke-linejoin="round"/>
<path d="M680 395 L721.6 417.7" fill="none" stroke="#000" stroke-width="1" stroke-linejoin="round"/>
<path d="M684 387 L722 407.7" fill="none" stroke="#000" stroke-width="1" stroke-linejoin="round"/>
<path d="M683.3 383.7 L682.7 395" fill="none" stroke="#000" stroke-width="1" stroke-linejoin="round"/>
<path d="M722.7 405 L733.3 397.7" fill="none" stroke="#000" stroke-width="1" stroke-linejoin="round"/>
<path d="M722.7 405 L722 421.7" fill="none" stroke="#000" stroke-width="1" stroke-linejoin="round"/>
<path d="M725.3 405.7 L728.7 413.7 L728 417.7" fill="none" stroke="#000" stroke-width="1.6" stroke-linejoin="round"/>
<path d="M730.7 400.3 L730.7 415" fill="none" stroke="#000" stroke-width="1" stroke-linejoin="round"/>
<path d="M718.7 396.3 L724 395 L726 397.7 L720.7 399.7 L718.7 396.3" fill="none" stroke="#000" stroke-width="1" stroke-linejoin="round"/>
<path d="M720.7 397.7 L725.3 396.1" fill="none" stroke="#000" stroke-width="1.4" stroke-linejoin="round"/>
<path d="M681.3 399 L688.7 403.7" fill="none" stroke="#000" stroke-width="2.2" stroke-linejoin="round"/>
<path d="M698 408.3 L700.7 411.7" fill="none" stroke="#000" stroke-width="2.2" stroke-linejoin="round"/>
<path d="M708.7 393.7 L716 398.3" fill="none" stroke="#000" stroke-width="1" stroke-linejoin="round"/>
<path d="M738 407 L742.7 408.3" fill="none" stroke="#000" stroke-width="1" stroke-linejoin="round"/>
<path d="M746 411 L748.7 412.3" fill="none" stroke="#000" stroke-width="1" stroke-linejoin="round"/>
<path d="M752 415.3 C752.5 415.5 754.2 416.5 755.3 416.6 C756.4 416.7 758.1 416.2 758.7 416.1" fill="none" stroke="#000" stroke-width="1" stroke-linecap="round"/>
<path d="M705.3 425.7 L712.7 422.3" fill="none" stroke="#000" stroke-width="1" stroke-linejoin="round"/>
<path d="M716 420.3 L720 418.7" fill="none" stroke="#000" stroke-width="1" stroke-linejoin="round"/>
<path d="M762 411.7 L769.3 407.7 L770.7 409.9 L763.3 413.9 Z" fill="none" stroke="#000" stroke-width="1" stroke-linejoin="round"/>
<path d="M764 411 L765.3 413.4" fill="none" stroke="#000" stroke-width="1.4" stroke-linejoin="round"/>
<path d="M766 409.9 L767.3 412.3" fill="none" stroke="#000" stroke-width="1.4" stroke-linejoin="round"/>
<path d="M768 408.9 L769.3 411.3" fill="none" stroke="#000" stroke-width="1.4" stroke-linejoin="round"/>
<path d="M769.3 404.3 L774 401.7 L778 403.7 L778.4 408.3 L774.4 411 L770 409 Z" fill="#fff" stroke="#000" stroke-width="1" stroke-linejoin="round"/>
<ellipse cx="773.7" cy="406.3" rx="2.66667" ry="2.66667" fill="#fff" stroke="#000" stroke-width="1.15" shape-rendering="geometricPrecision"/>
<path d="M772 404.6 L775.7 408.1" fill="none" stroke="#000" stroke-width="1" stroke-linejoin="round"/>
<path d="M771.3 407.7 L776 405" fill="none" stroke="#000" stroke-width="1" stroke-linejoin="round"/>
<path d="M692 425.7 L694.7 424.3 L700 426.3 L701.3 447.7 L696 452.3 L690 448.3 L693.3 443.7 L691.3 439 Z" fill="none" stroke="#000" stroke-width="1" stroke-linejoin="round"/>
<path d="M694.7 427 L694.7 440.3" fill="none" stroke="#000" stroke-width="1" stroke-linejoin="round"/>
<path d="M697.3 430.3 L698.7 445.7" fill="none" stroke="#000" stroke-width="1" stroke-linejoin="round"/>
<path d="M693.3 426.3 L693.7 441.7" fill="none" stroke="#000" stroke-width="1" stroke-linejoin="round"/>
<ellipse cx="697.3" cy="428.7" rx="0.933333" ry="0.933333" fill="#fff" stroke="#000" stroke-width="1.15" shape-rendering="geometricPrecision"/>
<ellipse cx="694.9" cy="447" rx="1.73333" ry="1.73333" fill="#fff" stroke="#000" stroke-width="1.15" shape-rendering="geometricPrecision"/>
<path d="M692 449 L696 445.7 L699.3 448.3" fill="none" stroke="#000" stroke-width="1" stroke-linejoin="round"/>
<path d="M693.3 443.7 L696.7 441.7 L698.7 445.7" fill="none" stroke="#000" stroke-width="1" stroke-linejoin="round"/>
<path d="M702 426.7 L705.3 425.9" fill="none" stroke="#000" stroke-width="1" stroke-linejoin="round"/>
<path d="M708.7 424.3 L712.7 422.3" fill="none" stroke="#000" stroke-width="1" stroke-linejoin="round"/>
<path d="M697.3 453 L698.7 457" fill="none" stroke="#000" stroke-width="1" stroke-linejoin="round"/>
<path d="M697.3 458.3 L700.7 457.4 L703.6 465.7 L700.4 467 Z" fill="none" stroke="#000" stroke-width="1" stroke-linejoin="round"/>
<path d="M697.7 459.7 L701.5 458.7" fill="none" stroke="#000" stroke-width="1.6" stroke-linejoin="round"/>
<path d="M698.5 461.7 L702.3 460.7" fill="none" stroke="#000" stroke-width="1.6" stroke-linejoin="round"/>
<path d="M699.3 463.7 L703.1 462.7" fill="none" stroke="#000" stroke-width="1.6" stroke-linejoin="round"/>
<path d="M700.1 465.7 L703.9 464.7" fill="none" stroke="#000" stroke-width="1.6" stroke-linejoin="round"/>
<path d="M698.7 467.7 L703.3 465.4 L708 467.7 L708.7 472.3 L704.4 476.1 L699.6 474.3 L697.3 471 Z" fill="#fff" stroke="#000" stroke-width="1" stroke-linejoin="round"/>
<ellipse cx="703.3" cy="471" rx="2.4" ry="2.4" fill="#fff" stroke="#000" stroke-width="1.15" shape-rendering="geometricPrecision"/>
<path d="M701.7 469.4 L704.9 472.6" fill="none" stroke="#000" stroke-width="1" stroke-linejoin="round"/>
<path d="M701.5 472.1 L705.3 469.7" fill="none" stroke="#000" stroke-width="1" stroke-linejoin="round"/>
<path d="M750 450.3 L755.3 443.7 L762 441.7 L787.3 457.7 L787.3 466.3 L780 471.7 L773.3 473.7 L750 456.3 Z" fill="#fff" stroke="#000" stroke-width="1" stroke-linejoin="round"/>
<path d="M755.3 443.7 L780.7 459.7 L787.3 457.7" fill="none" stroke="#000" stroke-width="1" stroke-linejoin="round"/>
<path d="M780.7 459.7 L780 471.7" fill="none" stroke="#000" stroke-width="1" stroke-linejoin="round"/>
<path d="M750 450.3 L775.3 466.3 L780.7 459.7" fill="none" stroke="#000" stroke-width="1" stroke-linejoin="round"/>
<path d="M775.3 466.3 L773.3 473.7" fill="none" stroke="#000" stroke-width="1" stroke-linejoin="round"/>
<path d="M758 443.3 L783.3 459" fill="none" stroke="#000" stroke-width="1" stroke-linejoin="round"/>
<path d="M763.3 446.3 L776.7 454.7" fill="none" stroke="#000" stroke-width="1" stroke-linejoin="round"/>
<path d="M782.7 459.3 L782.7 470.3" fill="none" stroke="#000" stroke-width="1.6" stroke-linejoin="round"/>
<path d="M784.7 458.7 L784.7 468.6" fill="none" stroke="#000" stroke-width="1" stroke-linejoin="round"/>
<path d="M768.7 447.7 L774 451" fill="none" stroke="#000" stroke-width="1" stroke-linejoin="round"/>
<path d="M768 449.9 L773.3 453.4" fill="none" stroke="#000" stroke-width="1" stroke-linejoin="round"/>
<ellipse cx="753.2" cy="454.5" rx="2" ry="1.6" fill="#fff" stroke="#000" stroke-width="1.61" shape-rendering="geometricPrecision" transform="rotate(30 753.2 454.5)"/>
<path d="M755.6 454.2 L755.1 458.6" fill="none" stroke="#000" stroke-width="1.4" stroke-linejoin="round"/>
<ellipse cx="758.8" cy="458.1" rx="2" ry="1.6" fill="#fff" stroke="#000" stroke-width="1.61" shape-rendering="geometricPrecision" transform="rotate(30 758.8 458.1)"/>
<path d="M761.2 457.8 L760.7 462.2" fill="none" stroke="#000" stroke-width="1.4" stroke-linejoin="round"/>
<ellipse cx="764.4" cy="461.7" rx="2" ry="1.6" fill="#fff" stroke="#000" stroke-width="1.61" shape-rendering="geometricPrecision" transform="rotate(30 764.4 461.7)"/>
<path d="M766.8 461.4 L766.3 465.8" fill="none" stroke="#000" stroke-width="1.4" stroke-linejoin="round"/>
<ellipse cx="770" cy="465.3" rx="2" ry="1.6" fill="#fff" stroke="#000" stroke-width="1.61" shape-rendering="geometricPrecision" transform="rotate(30 770 465.3)"/>
<path d="M772.4 465 L771.9 469.4" fill="none" stroke="#000" stroke-width="1.4" stroke-linejoin="round"/>
<path d="M751.3 455 L772.7 469.7" fill="none" stroke="#000" stroke-width="1.6" stroke-linejoin="round"/>
<path d="M758 464.3 L760.7 466.3 L762 464.3" fill="none" stroke="#000" stroke-width="2" stroke-linejoin="round"/>
<path d="M764 468.3 L766.3 469.9 L767.3 468.1" fill="none" stroke="#000" stroke-width="2" stroke-linejoin="round"/>
<path d="M611.2 336.4 L616.4 331.2 L626.7 328.4 L629.6 327.2 L630.8 329.5 L638.2 330.7 L642.2 334.7 L644 344.4 L645.7 351.3 L645.7 359.4 L637.1 365.1 L629 364 L626.7 360.5 L617 357.1 L614.1 354.2 L610.1 350.2 L611.2 344.4 Z" fill="#fff" stroke="#000" stroke-width="1" stroke-linejoin="round"/>
<path d="M616.4 331.2 L627.9 339.8 L642.2 334.7" fill="none" stroke="#000" stroke-width="1" stroke-linejoin="round"/>
<path d="M627.9 339.8 L628.5 363.4" fill="none" stroke="#000" stroke-width="1" stroke-linejoin="round"/>
<path d="M611.2 336.4 L618.7 340.1 L627.9 340.1" fill="none" stroke="#000" stroke-width="1" stroke-linejoin="round"/>
<path d="M614.7 334.7 L614.7 354.2" fill="none" stroke="#000" stroke-width="1" stroke-linejoin="round"/>
<path d="M620.4 340.4 L621.6 358" fill="none" stroke="#000" stroke-width="1" stroke-linejoin="round"/>
<path d="M626.7 342.1 L626.7 360.5" fill="none" stroke="#000" stroke-width="1.4" stroke-linejoin="round"/>
<path d="M623.3 332.4 L625.8 335.8 L622.7 337 Z" fill="none" stroke="#000" stroke-width="1" stroke-linejoin="round"/>
<path d="M629 337.6 L633.6 334.3 L634.2 342.4 Z" fill="none" stroke="#000" stroke-width="1" stroke-linejoin="round"/>
<path d="M637.1 345.6 L644 344.4" fill="none" stroke="#000" stroke-width="1" stroke-linejoin="round"/>
<path d="M637.1 352.7 L645.7 351.3" fill="none" stroke="#000" stroke-width="1" stroke-linejoin="round"/>
<path d="M633 355 L645.1 353.6" fill="none" stroke="#000" stroke-width="1" stroke-linejoin="round"/>
<path d="M637.1 345.6 L637.1 365.1" fill="none" stroke="#000" stroke-width="1" stroke-linejoin="round"/>
<path d="M630.8 344.4 L631.3 363.7" fill="none" stroke="#000" stroke-width="1" stroke-linejoin="round"/>
<path d="M638.2 333 L640.5 337.6 L643.4 340.1" fill="none" stroke="#000" stroke-width="1.4" stroke-linejoin="round"/>
<path d="M610.7 344.4 L614.7 343.9" fill="none" stroke="#000" stroke-width="1" stroke-linejoin="round"/>
<path d="M617 331.8 L618.1 334.7 L615.8 335.5" fill="none" stroke="#000" stroke-width="1.6" stroke-linejoin="round"/>
<path d="M626.7 328.4 L627.9 331.8 L630.8 329.5" fill="none" stroke="#000" stroke-width="1" stroke-linejoin="round"/>
<path d="M876.2 522.9 L876.2 519 L879.4 511.3 L881.6 511.3 L884.8 519 L884.8 522.9" fill="none" stroke="#000" stroke-width="1.2" stroke-linejoin="round"/>
<path d="M877.1 518.6 L884.2 518.6" fill="none" stroke="#000" stroke-width="1.2" stroke-linejoin="round"/>
<path d="M889 516.5 C889.1 515.9 889.1 513.8 889.7 513 C890.3 512.2 891.7 511.9 892.6 511.9 C893.5 511.9 894.7 512.5 895.2 513.2 C895.7 513.9 895.7 515.7 895.8 516.2" fill="none" stroke="#000" stroke-width="1.2" stroke-linecap="round"/>
<path d="M889.4 517.5 L895.2 517.5" fill="none" stroke="#000" stroke-width="1.2" stroke-linejoin="round"/>
<path d="M901.2 516.6 L903.5 513.2" fill="none" stroke="#000" stroke-width="1.3" stroke-linejoin="round"/>
<path d="M910.3 522 C910.3 520.8 910.1 516.2 910.3 514.5 C910.5 512.8 910.6 512.0 911.3 511.5 C912.0 511.0 913.8 511.0 914.5 511.5 C915.2 512.0 915.6 512.8 915.8 514.5 C916.0 516.2 915.8 520.8 915.8 522" fill="none" stroke="#000" stroke-width="1.2" stroke-linecap="round"/>
<path d="M910.3 522 L911.9 522" fill="none" stroke="#000" stroke-width="1.2" stroke-linejoin="round"/>
<path d="M914.5 522 L915.8 522" fill="none" stroke="#000" stroke-width="1.2" stroke-linejoin="round"/>
<path d="M926.8 512.2 C927.0 512.7 927.6 514.1 927.8 515.2 C928.0 516.3 928.0 517.9 927.8 519 C927.6 520.1 926.6 521.2 926.4 521.7" fill="none" stroke="#000" stroke-width="1.2" stroke-linecap="round"/>
<path d="M936.2 511.7 C935.9 512.1 934.6 512.6 934.3 513.9 C934.0 515.2 934.0 518.4 934.3 519.7 C934.6 521.1 935.4 521.6 936.2 522 C937.0 522.4 938.2 522.4 939 522 C939.8 521.6 940.7 521.1 941 519.7 C941.3 518.4 941.3 515.2 941 513.9 C940.7 512.6 939.6 512.1 939.3 511.7" fill="none" stroke="#000" stroke-width="1.2" stroke-linecap="round"/>
<path d="M943.9 513.2 L945 513.2" fill="none" stroke="#000" stroke-width="1.6" stroke-linejoin="round"/>
<path d="M953.2 511.9 C952.9 512.2 951.7 512.6 951.4 513.9 C951.1 515.2 951.1 518.5 951.4 519.9 C951.7 521.2 952.4 521.6 953.2 522 C954.0 522.4 955.4 522.4 956.1 522 C956.9 521.6 957.4 521.2 957.7 519.9 C958.0 518.5 958.0 515.2 957.7 513.9 C957.4 512.6 956.7 512.3 956.1 511.9 C955.5 511.5 954.6 511.7 954.3 511.7" fill="none" stroke="#000" stroke-width="1.2" stroke-linecap="round"/>
<path d="M966.8 511.5 C966.2 511.6 964.4 511.6 963.5 512.2 C962.6 512.8 962.0 514.0 961.7 515.2 C961.4 516.5 961.2 518.6 961.5 519.7 C961.8 520.8 962.6 521.6 963.5 522 C964.4 522.4 965.9 522.3 966.8 522 C967.7 521.7 968.4 521.0 968.7 520.3 C969.0 519.6 968.9 518.3 968.5 517.7 C968.1 517.1 967.1 516.5 966.1 516.5 C965.1 516.5 962.9 517.2 962.3 517.4" fill="none" stroke="#000" stroke-width="1.2" stroke-linecap="round"/>
<path d="M266.8 368.2 L272.4 368.2" fill="none" stroke="#000" stroke-width="1" stroke-linejoin="round"/>
<path d="M266.8 377.4 L272.4 377.4" fill="none" stroke="#000" stroke-width="1" stroke-linejoin="round"/>
</svg>
</body></html>
